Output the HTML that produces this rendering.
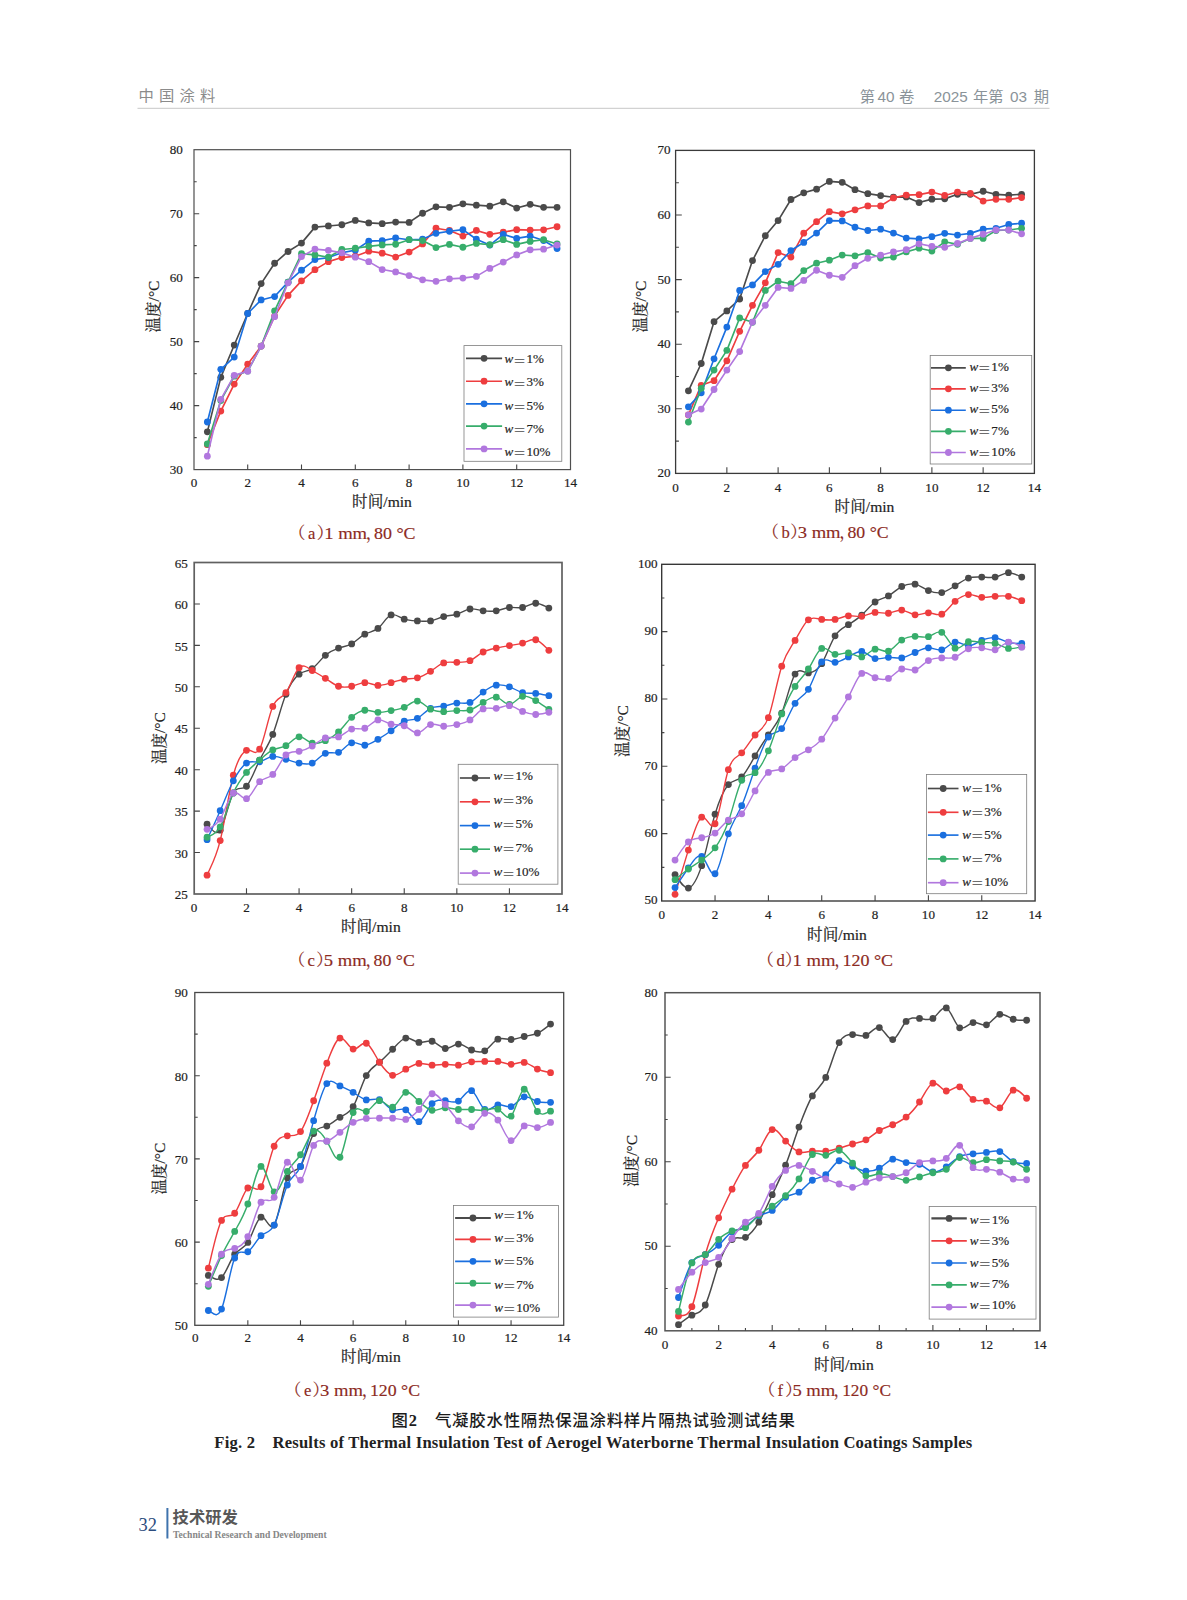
<!DOCTYPE html>
<html lang="zh"><head><meta charset="utf-8"><title>图2</title>
<style>
html,body{margin:0;padding:0;background:#fff;}
body{width:1187px;height:1600px;position:relative;overflow:hidden;}
svg{position:absolute;left:0;top:0;display:block;}
</style></head><body>
<svg width="1187" height="1600" viewBox="0 0 1187 1600">
<rect width="1187" height="1600" fill="#fff"/>
<text x="138.6" y="101.3" font-family="'Liberation Sans','Noto Sans CJK SC',sans-serif" font-size="15.3" fill="#8b8b8b" letter-spacing="5.2">中国涂料</text>
<g font-family="'Liberation Sans','Noto Sans CJK SC',sans-serif" font-size="15.3" fill="#8a9399">
<text x="859.8" y="101.5">第</text>
<text x="877.6" y="101.5">40</text>
<text x="898.9" y="101.5">卷</text>
<text x="933.7" y="101.5">2025</text>
<text x="972.9" y="101.5">年第</text>
<text x="1010.1" y="101.5">03</text>
<text x="1033.7" y="101.5">期</text>
</g>
<path d="M137.5 108.3 H1049.5" stroke="#d2d2d2" stroke-width="1.2"/>
<g>
<path d="M207.35 431.85 L220.8 377.34 L234.25 345.03 L247.7 313.49 L261.15 283.61 L274.6 263.26 L288.05 251.49 L301.5 243.11 L314.95 227.12 L328.4 225.96 L341.85 224.75 L355.3 220.4 L368.75 222.89 L382.2 223.66 L395.65 222.06 L409.1 222.38 L422.55 213.23 L436 206.83 L449.45 207.35 L462.9 203.83 L476.35 205.17 L489.8 206.19 L503.25 201.78 L516.7 208.05 L530.15 204.34 L543.6 207.35 L557.05 207.35" fill="none" stroke="#4a4a4a" stroke-width="1.65" stroke-linejoin="round"/>
<g fill="#4a4a4a"><circle cx="207.35" cy="431.85" r="3.4"/><circle cx="220.8" cy="377.34" r="3.4"/><circle cx="234.25" cy="345.03" r="3.4"/><circle cx="247.7" cy="313.49" r="3.4"/><circle cx="261.15" cy="283.61" r="3.4"/><circle cx="274.6" cy="263.26" r="3.4"/><circle cx="288.05" cy="251.49" r="3.4"/><circle cx="301.5" cy="243.11" r="3.4"/><circle cx="314.95" cy="227.12" r="3.4"/><circle cx="328.4" cy="225.96" r="3.4"/><circle cx="341.85" cy="224.75" r="3.4"/><circle cx="355.3" cy="220.4" r="3.4"/><circle cx="368.75" cy="222.89" r="3.4"/><circle cx="382.2" cy="223.66" r="3.4"/><circle cx="395.65" cy="222.06" r="3.4"/><circle cx="409.1" cy="222.38" r="3.4"/><circle cx="422.55" cy="213.23" r="3.4"/><circle cx="436" cy="206.83" r="3.4"/><circle cx="449.45" cy="207.35" r="3.4"/><circle cx="462.9" cy="203.83" r="3.4"/><circle cx="476.35" cy="205.17" r="3.4"/><circle cx="489.8" cy="206.19" r="3.4"/><circle cx="503.25" cy="201.78" r="3.4"/><circle cx="516.7" cy="208.05" r="3.4"/><circle cx="530.15" cy="204.34" r="3.4"/><circle cx="543.6" cy="207.35" r="3.4"/><circle cx="557.05" cy="207.35" r="3.4"/></g>
<path d="M207.35 444.65 L220.8 411.06 L234.25 384.12 L247.7 364.22 L261.15 346.12 L274.6 316.05 L288.05 295.38 L301.5 280.86 L314.95 269.66 L328.4 261.66 L341.85 257.57 L355.3 256.23 L368.75 251.17 L382.2 253.16 L395.65 257.06 L409.1 252.07 L422.55 243.94 L436 228.27 L449.45 230.44 L462.9 236.07 L476.35 230.44 L489.8 234.35 L503.25 232.23 L516.7 229.68 L530.15 230.12 L543.6 229.8 L557.05 226.73" fill="none" stroke="#ee3d3f" stroke-width="1.65" stroke-linejoin="round"/>
<g fill="#ee3d3f"><circle cx="207.35" cy="444.65" r="3.4"/><circle cx="220.8" cy="411.06" r="3.4"/><circle cx="234.25" cy="384.12" r="3.4"/><circle cx="247.7" cy="364.22" r="3.4"/><circle cx="261.15" cy="346.12" r="3.4"/><circle cx="274.6" cy="316.05" r="3.4"/><circle cx="288.05" cy="295.38" r="3.4"/><circle cx="301.5" cy="280.86" r="3.4"/><circle cx="314.95" cy="269.66" r="3.4"/><circle cx="328.4" cy="261.66" r="3.4"/><circle cx="341.85" cy="257.57" r="3.4"/><circle cx="355.3" cy="256.23" r="3.4"/><circle cx="368.75" cy="251.17" r="3.4"/><circle cx="382.2" cy="253.16" r="3.4"/><circle cx="395.65" cy="257.06" r="3.4"/><circle cx="409.1" cy="252.07" r="3.4"/><circle cx="422.55" cy="243.94" r="3.4"/><circle cx="436" cy="228.27" r="3.4"/><circle cx="449.45" cy="230.44" r="3.4"/><circle cx="462.9" cy="236.07" r="3.4"/><circle cx="476.35" cy="230.44" r="3.4"/><circle cx="489.8" cy="234.35" r="3.4"/><circle cx="503.25" cy="232.23" r="3.4"/><circle cx="516.7" cy="229.68" r="3.4"/><circle cx="530.15" cy="230.12" r="3.4"/><circle cx="543.6" cy="229.8" r="3.4"/><circle cx="557.05" cy="226.73" r="3.4"/></g>
<path d="M207.35 422 L220.8 369.28 L234.25 357.12 L247.7 313.49 L261.15 299.93 L274.6 296.53 L288.05 282.14 L301.5 270.17 L314.95 259.55 L328.4 257.57 L341.85 252.71 L355.3 250.15 L368.75 241.19 L382.2 240.68 L395.65 237.99 L409.1 239.72 L422.55 239.27 L436 233.32 L449.45 231.27 L462.9 229.68 L476.35 239.27 L489.8 245.03 L503.25 234.35 L516.7 238.38 L530.15 236.07 L543.6 240.55 L557.05 248.49" fill="none" stroke="#1a6fdf" stroke-width="1.65" stroke-linejoin="round"/>
<g fill="#1a6fdf"><circle cx="207.35" cy="422" r="3.4"/><circle cx="220.8" cy="369.28" r="3.4"/><circle cx="234.25" cy="357.12" r="3.4"/><circle cx="247.7" cy="313.49" r="3.4"/><circle cx="261.15" cy="299.93" r="3.4"/><circle cx="274.6" cy="296.53" r="3.4"/><circle cx="288.05" cy="282.14" r="3.4"/><circle cx="301.5" cy="270.17" r="3.4"/><circle cx="314.95" cy="259.55" r="3.4"/><circle cx="328.4" cy="257.57" r="3.4"/><circle cx="341.85" cy="252.71" r="3.4"/><circle cx="355.3" cy="250.15" r="3.4"/><circle cx="368.75" cy="241.19" r="3.4"/><circle cx="382.2" cy="240.68" r="3.4"/><circle cx="395.65" cy="237.99" r="3.4"/><circle cx="409.1" cy="239.72" r="3.4"/><circle cx="422.55" cy="239.27" r="3.4"/><circle cx="436" cy="233.32" r="3.4"/><circle cx="449.45" cy="231.27" r="3.4"/><circle cx="462.9" cy="229.68" r="3.4"/><circle cx="476.35" cy="239.27" r="3.4"/><circle cx="489.8" cy="245.03" r="3.4"/><circle cx="503.25" cy="234.35" r="3.4"/><circle cx="516.7" cy="238.38" r="3.4"/><circle cx="530.15" cy="236.07" r="3.4"/><circle cx="543.6" cy="240.55" r="3.4"/><circle cx="557.05" cy="248.49" r="3.4"/></g>
<path d="M207.35 444.01 L220.8 400.5 L234.25 376.19 L247.7 371.07 L261.15 346.12 L274.6 310.93 L288.05 282.14 L301.5 253.67 L314.95 254.88 L328.4 257.19 L341.85 249.51 L355.3 248.23 L368.75 246.31 L382.2 244.9 L395.65 244.26 L409.1 239.72 L422.55 240.55 L436 247.59 L449.45 244.39 L462.9 247.27 L476.35 243.43 L489.8 244.77 L503.25 239.72 L516.7 244.39 L530.15 241.38 L543.6 239.72 L557.05 243.94" fill="none" stroke="#37ad6b" stroke-width="1.65" stroke-linejoin="round"/>
<g fill="#37ad6b"><circle cx="207.35" cy="444.01" r="3.4"/><circle cx="220.8" cy="400.5" r="3.4"/><circle cx="234.25" cy="376.19" r="3.4"/><circle cx="247.7" cy="371.07" r="3.4"/><circle cx="261.15" cy="346.12" r="3.4"/><circle cx="274.6" cy="310.93" r="3.4"/><circle cx="288.05" cy="282.14" r="3.4"/><circle cx="301.5" cy="253.67" r="3.4"/><circle cx="314.95" cy="254.88" r="3.4"/><circle cx="328.4" cy="257.19" r="3.4"/><circle cx="341.85" cy="249.51" r="3.4"/><circle cx="355.3" cy="248.23" r="3.4"/><circle cx="368.75" cy="246.31" r="3.4"/><circle cx="382.2" cy="244.9" r="3.4"/><circle cx="395.65" cy="244.26" r="3.4"/><circle cx="409.1" cy="239.72" r="3.4"/><circle cx="422.55" cy="240.55" r="3.4"/><circle cx="436" cy="247.59" r="3.4"/><circle cx="449.45" cy="244.39" r="3.4"/><circle cx="462.9" cy="247.27" r="3.4"/><circle cx="476.35" cy="243.43" r="3.4"/><circle cx="489.8" cy="244.77" r="3.4"/><circle cx="503.25" cy="239.72" r="3.4"/><circle cx="516.7" cy="244.39" r="3.4"/><circle cx="530.15" cy="241.38" r="3.4"/><circle cx="543.6" cy="239.72" r="3.4"/><circle cx="557.05" cy="243.94" r="3.4"/></g>
<path d="M207.35 456.16 L220.8 399.29 L234.25 375.36 L247.7 371.13 L261.15 346.18 L274.6 316.69 L288.05 282.78 L301.5 256.55 L314.95 249.12 L328.4 250.34 L341.85 252.84 L355.3 257.19 L368.75 261.66 L382.2 269.53 L395.65 271.9 L409.1 275.61 L422.55 279.84 L436 281.31 L449.45 278.81 L462.9 278.11 L476.35 276.38 L489.8 268.38 L503.25 262.11 L516.7 254.88 L530.15 249.83 L543.6 249.19 L557.05 245.03" fill="none" stroke="#b177de" stroke-width="1.65" stroke-linejoin="round"/>
<g fill="#b177de"><circle cx="207.35" cy="456.16" r="3.4"/><circle cx="220.8" cy="399.29" r="3.4"/><circle cx="234.25" cy="375.36" r="3.4"/><circle cx="247.7" cy="371.13" r="3.4"/><circle cx="261.15" cy="346.18" r="3.4"/><circle cx="274.6" cy="316.69" r="3.4"/><circle cx="288.05" cy="282.78" r="3.4"/><circle cx="301.5" cy="256.55" r="3.4"/><circle cx="314.95" cy="249.12" r="3.4"/><circle cx="328.4" cy="250.34" r="3.4"/><circle cx="341.85" cy="252.84" r="3.4"/><circle cx="355.3" cy="257.19" r="3.4"/><circle cx="368.75" cy="261.66" r="3.4"/><circle cx="382.2" cy="269.53" r="3.4"/><circle cx="395.65" cy="271.9" r="3.4"/><circle cx="409.1" cy="275.61" r="3.4"/><circle cx="422.55" cy="279.84" r="3.4"/><circle cx="436" cy="281.31" r="3.4"/><circle cx="449.45" cy="278.81" r="3.4"/><circle cx="462.9" cy="278.11" r="3.4"/><circle cx="476.35" cy="276.38" r="3.4"/><circle cx="489.8" cy="268.38" r="3.4"/><circle cx="503.25" cy="262.11" r="3.4"/><circle cx="516.7" cy="254.88" r="3.4"/><circle cx="530.15" cy="249.83" r="3.4"/><circle cx="543.6" cy="249.19" r="3.4"/><circle cx="557.05" cy="245.03" r="3.4"/></g>
<rect x="194" y="149.7" width="376.5" height="319.9" fill="none" stroke="#4f4f4f" stroke-width="1.2"/>
<path d="M194 405.62 h5.2 M194 341.64 h5.2 M194 277.66 h5.2 M194 213.68 h5.2 M194 437.61 h2.7 M194 373.63 h2.7 M194 309.65 h2.7 M194 245.67 h2.7 M194 181.69 h2.7 M247.7 469.6 v-5.2 M301.5 469.6 v-5.2 M355.3 469.6 v-5.2 M409.1 469.6 v-5.2 M462.9 469.6 v-5.2 M516.7 469.6 v-5.2" stroke="#454545" stroke-width="1.1" fill="none"/>
<g font-family="'Liberation Serif','Noto Serif CJK SC',serif" font-size="13.1" fill="#1e1e1e" stroke="#1e1e1e" stroke-width="0.2">
<text x="182.9" y="474.2" text-anchor="end">30</text>
<text x="182.9" y="410.22" text-anchor="end">40</text>
<text x="182.9" y="346.24" text-anchor="end">50</text>
<text x="182.9" y="282.26" text-anchor="end">60</text>
<text x="182.9" y="218.28" text-anchor="end">70</text>
<text x="182.9" y="154.3" text-anchor="end">80</text>
<text x="193.9" y="486.7" text-anchor="middle">0</text>
<text x="247.7" y="486.7" text-anchor="middle">2</text>
<text x="301.5" y="486.7" text-anchor="middle">4</text>
<text x="355.3" y="486.7" text-anchor="middle">6</text>
<text x="409.1" y="486.7" text-anchor="middle">8</text>
<text x="462.9" y="486.7" text-anchor="middle">10</text>
<text x="516.7" y="486.7" text-anchor="middle">12</text>
<text x="570.5" y="486.7" text-anchor="middle">14</text>
</g>
<text x="382" y="507" text-anchor="middle" font-family="'Liberation Serif','Noto Serif CJK SC',serif" font-size="15.6" fill="#1e1e1e" stroke="#1e1e1e" stroke-width="0.2">时间/min</text>
<text transform="translate(158.8 306.5) rotate(-90)" text-anchor="middle" font-family="'Liberation Serif','Noto Serif CJK SC',serif" font-size="15.5" fill="#1e1e1e" stroke="#1e1e1e" stroke-width="0.2">温度/°C</text>
<g font-family="'Liberation Serif','Noto Serif CJK SC',serif" font-size="16.6" fill="#8c2a22" stroke="#8c2a22" stroke-width="0.15">
<text x="288.8" y="539">（</text>
<text x="308" y="539">a</text>
<text x="316.7" y="539">）</text>
<text x="324.2" y="539" textLength="42.9" lengthAdjust="spacingAndGlyphs">1 mm</text>
<text x="365.8" y="539">，</text>
<text x="374" y="539" textLength="41.5" lengthAdjust="spacingAndGlyphs">80 °C</text>
</g>
<rect x="464" y="345.6" width="97.8" height="115.7" fill="#fff" stroke="#7d7d7d" stroke-width="0.8"/>
<path d="M466 358.3 H502.1" stroke="#4a4a4a" stroke-width="1.65"/>
<circle cx="484.05" cy="358.3" r="3.4" fill="#4a4a4a"/>
<text x="504.6" y="363.3" font-family="'Liberation Serif','Noto Serif CJK SC',serif" font-size="13.1" fill="#1e1e1e" stroke="#222" stroke-width="0.18"><tspan font-style="italic">w</tspan><tspan dx="-0.3" dy="2.3">＝</tspan><tspan dx="0.4" dy="-2.3">1%</tspan></text>
<path d="M466 381.2 H502.1" stroke="#ee3d3f" stroke-width="1.65"/>
<circle cx="484.05" cy="381.2" r="3.4" fill="#ee3d3f"/>
<text x="504.6" y="386.3" font-family="'Liberation Serif','Noto Serif CJK SC',serif" font-size="13.1" fill="#1e1e1e" stroke="#222" stroke-width="0.18"><tspan font-style="italic">w</tspan><tspan dx="-0.3" dy="2.3">＝</tspan><tspan dx="0.4" dy="-2.3">3%</tspan></text>
<path d="M466 403.8 H502.1" stroke="#1a6fdf" stroke-width="1.65"/>
<circle cx="484.05" cy="403.8" r="3.4" fill="#1a6fdf"/>
<text x="504.6" y="409.5" font-family="'Liberation Serif','Noto Serif CJK SC',serif" font-size="13.1" fill="#1e1e1e" stroke="#222" stroke-width="0.18"><tspan font-style="italic">w</tspan><tspan dx="-0.3" dy="2.3">＝</tspan><tspan dx="0.4" dy="-2.3">5%</tspan></text>
<path d="M466 426.1 H502.1" stroke="#37ad6b" stroke-width="1.65"/>
<circle cx="484.05" cy="426.1" r="3.4" fill="#37ad6b"/>
<text x="504.6" y="432.5" font-family="'Liberation Serif','Noto Serif CJK SC',serif" font-size="13.1" fill="#1e1e1e" stroke="#222" stroke-width="0.18"><tspan font-style="italic">w</tspan><tspan dx="-0.3" dy="2.3">＝</tspan><tspan dx="0.4" dy="-2.3">7%</tspan></text>
<path d="M466 448.9 H502.1" stroke="#b177de" stroke-width="1.65"/>
<circle cx="484.05" cy="448.9" r="3.4" fill="#b177de"/>
<text x="504.6" y="456" font-family="'Liberation Serif','Noto Serif CJK SC',serif" font-size="13.1" fill="#1e1e1e" stroke="#222" stroke-width="0.18"><tspan font-style="italic">w</tspan><tspan dx="-0.3" dy="2.3">＝</tspan><tspan dx="0.4" dy="-2.3">10%</tspan></text>
</g>
<g>
<path d="M688.41 390.84 L701.23 363.52 L714.04 321.65 L726.86 310.93 L739.67 298.98 L752.49 260.61 L765.3 235.74 L778.11 220.56 L790.93 199.5 L803.74 192.78 L816.56 189.16 L829.37 181.41 L842.19 182.31 L855 189.68 L867.81 193.68 L880.63 195.62 L893.44 197.23 L906.26 196.91 L919.07 202.53 L931.89 199.17 L944.7 198.85 L957.51 194.33 L970.33 194.33 L983.14 191.23 L995.96 194.33 L1008.77 195.1 L1021.59 194.33" fill="none" stroke="#4a4a4a" stroke-width="1.65" stroke-linejoin="round"/>
<g fill="#4a4a4a"><circle cx="688.41" cy="390.84" r="3.4"/><circle cx="701.23" cy="363.52" r="3.4"/><circle cx="714.04" cy="321.65" r="3.4"/><circle cx="726.86" cy="310.93" r="3.4"/><circle cx="739.67" cy="298.98" r="3.4"/><circle cx="752.49" cy="260.61" r="3.4"/><circle cx="765.3" cy="235.74" r="3.4"/><circle cx="778.11" cy="220.56" r="3.4"/><circle cx="790.93" cy="199.5" r="3.4"/><circle cx="803.74" cy="192.78" r="3.4"/><circle cx="816.56" cy="189.16" r="3.4"/><circle cx="829.37" cy="181.41" r="3.4"/><circle cx="842.19" cy="182.31" r="3.4"/><circle cx="855" cy="189.68" r="3.4"/><circle cx="867.81" cy="193.68" r="3.4"/><circle cx="880.63" cy="195.62" r="3.4"/><circle cx="893.44" cy="197.23" r="3.4"/><circle cx="906.26" cy="196.91" r="3.4"/><circle cx="919.07" cy="202.53" r="3.4"/><circle cx="931.89" cy="199.17" r="3.4"/><circle cx="944.7" cy="198.85" r="3.4"/><circle cx="957.51" cy="194.33" r="3.4"/><circle cx="970.33" cy="194.33" r="3.4"/><circle cx="983.14" cy="191.23" r="3.4"/><circle cx="995.96" cy="194.33" r="3.4"/><circle cx="1008.77" cy="195.1" r="3.4"/><circle cx="1021.59" cy="194.33" r="3.4"/></g>
<path d="M688.41 414.94 L701.23 385.29 L714.04 380.7 L726.86 360.8 L739.67 331.28 L752.49 305.31 L765.3 282.83 L778.11 252.53 L790.93 257.12 L803.74 233.22 L816.56 221.72 L829.37 211.64 L842.19 213.84 L855 209.83 L867.81 205.96 L880.63 205.96 L893.44 197.88 L906.26 195.1 L919.07 194.65 L931.89 192.07 L944.7 195.49 L957.51 192.07 L970.33 193.42 L983.14 201.05 L995.96 199.37 L1008.77 199.37 L1021.59 197.62" fill="none" stroke="#ee3d3f" stroke-width="1.65" stroke-linejoin="round"/>
<g fill="#ee3d3f"><circle cx="688.41" cy="414.94" r="3.4"/><circle cx="701.23" cy="385.29" r="3.4"/><circle cx="714.04" cy="380.7" r="3.4"/><circle cx="726.86" cy="360.8" r="3.4"/><circle cx="739.67" cy="331.28" r="3.4"/><circle cx="752.49" cy="305.31" r="3.4"/><circle cx="765.3" cy="282.83" r="3.4"/><circle cx="778.11" cy="252.53" r="3.4"/><circle cx="790.93" cy="257.12" r="3.4"/><circle cx="803.74" cy="233.22" r="3.4"/><circle cx="816.56" cy="221.72" r="3.4"/><circle cx="829.37" cy="211.64" r="3.4"/><circle cx="842.19" cy="213.84" r="3.4"/><circle cx="855" cy="209.83" r="3.4"/><circle cx="867.81" cy="205.96" r="3.4"/><circle cx="880.63" cy="205.96" r="3.4"/><circle cx="893.44" cy="197.88" r="3.4"/><circle cx="906.26" cy="195.1" r="3.4"/><circle cx="919.07" cy="194.65" r="3.4"/><circle cx="931.89" cy="192.07" r="3.4"/><circle cx="944.7" cy="195.49" r="3.4"/><circle cx="957.51" cy="192.07" r="3.4"/><circle cx="970.33" cy="193.42" r="3.4"/><circle cx="983.14" cy="201.05" r="3.4"/><circle cx="995.96" cy="199.37" r="3.4"/><circle cx="1008.77" cy="199.37" r="3.4"/><circle cx="1021.59" cy="197.62" r="3.4"/></g>
<path d="M688.41 406.86 L701.23 392.84 L714.04 358.8 L726.86 327.08 L739.67 290.45 L752.49 284.9 L765.3 271.59 L778.11 264.35 L790.93 250.53 L803.74 242.45 L816.56 233.09 L829.37 220.56 L842.19 220.88 L855 227.27 L867.81 230.5 L880.63 229.21 L893.44 233.09 L906.26 238.06 L919.07 238.9 L931.89 236.71 L944.7 233.35 L957.51 235.03 L970.33 233.35 L983.14 229.15 L995.96 228.31 L1008.77 224.43 L1021.59 223.27" fill="none" stroke="#1a6fdf" stroke-width="1.65" stroke-linejoin="round"/>
<g fill="#1a6fdf"><circle cx="688.41" cy="406.86" r="3.4"/><circle cx="701.23" cy="392.84" r="3.4"/><circle cx="714.04" cy="358.8" r="3.4"/><circle cx="726.86" cy="327.08" r="3.4"/><circle cx="739.67" cy="290.45" r="3.4"/><circle cx="752.49" cy="284.9" r="3.4"/><circle cx="765.3" cy="271.59" r="3.4"/><circle cx="778.11" cy="264.35" r="3.4"/><circle cx="790.93" cy="250.53" r="3.4"/><circle cx="803.74" cy="242.45" r="3.4"/><circle cx="816.56" cy="233.09" r="3.4"/><circle cx="829.37" cy="220.56" r="3.4"/><circle cx="842.19" cy="220.88" r="3.4"/><circle cx="855" cy="227.27" r="3.4"/><circle cx="867.81" cy="230.5" r="3.4"/><circle cx="880.63" cy="229.21" r="3.4"/><circle cx="893.44" cy="233.09" r="3.4"/><circle cx="906.26" cy="238.06" r="3.4"/><circle cx="919.07" cy="238.9" r="3.4"/><circle cx="931.89" cy="236.71" r="3.4"/><circle cx="944.7" cy="233.35" r="3.4"/><circle cx="957.51" cy="235.03" r="3.4"/><circle cx="970.33" cy="233.35" r="3.4"/><circle cx="983.14" cy="229.15" r="3.4"/><circle cx="995.96" cy="228.31" r="3.4"/><circle cx="1008.77" cy="224.43" r="3.4"/><circle cx="1021.59" cy="223.27" r="3.4"/></g>
<path d="M688.41 422.04 L701.23 388.32 L714.04 370.1 L726.86 350.34 L739.67 317.97 L752.49 322.24 L765.3 290.45 L778.11 281.21 L790.93 283.73 L803.74 270.56 L816.56 263.19 L829.37 260.22 L842.19 255.05 L855 255.83 L867.81 252.6 L880.63 258.09 L893.44 256.99 L906.26 251.89 L919.07 248.2 L931.89 251.05 L944.7 241.81 L957.51 244.33 L970.33 238.39 L983.14 238.39 L995.96 230.5 L1008.77 229.99 L1021.59 228.31" fill="none" stroke="#37ad6b" stroke-width="1.65" stroke-linejoin="round"/>
<g fill="#37ad6b"><circle cx="688.41" cy="422.04" r="3.4"/><circle cx="701.23" cy="388.32" r="3.4"/><circle cx="714.04" cy="370.1" r="3.4"/><circle cx="726.86" cy="350.34" r="3.4"/><circle cx="739.67" cy="317.97" r="3.4"/><circle cx="752.49" cy="322.24" r="3.4"/><circle cx="765.3" cy="290.45" r="3.4"/><circle cx="778.11" cy="281.21" r="3.4"/><circle cx="790.93" cy="283.73" r="3.4"/><circle cx="803.74" cy="270.56" r="3.4"/><circle cx="816.56" cy="263.19" r="3.4"/><circle cx="829.37" cy="260.22" r="3.4"/><circle cx="842.19" cy="255.05" r="3.4"/><circle cx="855" cy="255.83" r="3.4"/><circle cx="867.81" cy="252.6" r="3.4"/><circle cx="880.63" cy="258.09" r="3.4"/><circle cx="893.44" cy="256.99" r="3.4"/><circle cx="906.26" cy="251.89" r="3.4"/><circle cx="919.07" cy="248.2" r="3.4"/><circle cx="931.89" cy="251.05" r="3.4"/><circle cx="944.7" cy="241.81" r="3.4"/><circle cx="957.51" cy="244.33" r="3.4"/><circle cx="970.33" cy="238.39" r="3.4"/><circle cx="983.14" cy="238.39" r="3.4"/><circle cx="995.96" cy="230.5" r="3.4"/><circle cx="1008.77" cy="229.99" r="3.4"/><circle cx="1021.59" cy="228.31" r="3.4"/></g>
<path d="M688.41 414.81 L701.23 409.06 L714.04 389.48 L726.86 370.1 L739.67 351.56 L752.49 322.04 L765.3 305.31 L778.11 287.42 L790.93 288.45 L803.74 280.38 L816.56 270.23 L829.37 275.27 L842.19 277.34 L855 265.71 L867.81 258.28 L880.63 255.18 L893.44 251.82 L906.26 249.69 L919.07 243.81 L931.89 246.33 L944.7 247.3 L957.51 243.42 L970.33 238.39 L983.14 234.19 L995.96 229.99 L1008.77 229.99 L1021.59 233.86" fill="none" stroke="#b177de" stroke-width="1.65" stroke-linejoin="round"/>
<g fill="#b177de"><circle cx="688.41" cy="414.81" r="3.4"/><circle cx="701.23" cy="409.06" r="3.4"/><circle cx="714.04" cy="389.48" r="3.4"/><circle cx="726.86" cy="370.1" r="3.4"/><circle cx="739.67" cy="351.56" r="3.4"/><circle cx="752.49" cy="322.04" r="3.4"/><circle cx="765.3" cy="305.31" r="3.4"/><circle cx="778.11" cy="287.42" r="3.4"/><circle cx="790.93" cy="288.45" r="3.4"/><circle cx="803.74" cy="280.38" r="3.4"/><circle cx="816.56" cy="270.23" r="3.4"/><circle cx="829.37" cy="275.27" r="3.4"/><circle cx="842.19" cy="277.34" r="3.4"/><circle cx="855" cy="265.71" r="3.4"/><circle cx="867.81" cy="258.28" r="3.4"/><circle cx="880.63" cy="255.18" r="3.4"/><circle cx="893.44" cy="251.82" r="3.4"/><circle cx="906.26" cy="249.69" r="3.4"/><circle cx="919.07" cy="243.81" r="3.4"/><circle cx="931.89" cy="246.33" r="3.4"/><circle cx="944.7" cy="247.3" r="3.4"/><circle cx="957.51" cy="243.42" r="3.4"/><circle cx="970.33" cy="238.39" r="3.4"/><circle cx="983.14" cy="234.19" r="3.4"/><circle cx="995.96" cy="229.99" r="3.4"/><circle cx="1008.77" cy="229.99" r="3.4"/><circle cx="1021.59" cy="233.86" r="3.4"/></g>
<rect x="675.6" y="150.4" width="358.8" height="323" fill="none" stroke="#3a3a3a" stroke-width="1.3"/>
<path d="M675.6 408.8 h6.2 M675.6 344.2 h6.2 M675.6 279.6 h6.2 M675.6 215 h6.2 M675.6 441.1 h3.3 M675.6 376.5 h3.3 M675.6 311.9 h3.3 M675.6 247.3 h3.3 M675.6 182.7 h3.3 M726.86 473.4 v-6.2 M778.11 473.4 v-6.2 M829.37 473.4 v-6.2 M880.63 473.4 v-6.2 M931.89 473.4 v-6.2 M983.14 473.4 v-6.2" stroke="#454545" stroke-width="1.1" fill="none"/>
<g font-family="'Liberation Serif','Noto Serif CJK SC',serif" font-size="13.1" fill="#1e1e1e" stroke="#1e1e1e" stroke-width="0.2">
<text x="670.6" y="477.3" text-anchor="end">20</text>
<text x="670.6" y="412.7" text-anchor="end">30</text>
<text x="670.6" y="348.1" text-anchor="end">40</text>
<text x="670.6" y="283.5" text-anchor="end">50</text>
<text x="670.6" y="218.9" text-anchor="end">60</text>
<text x="670.6" y="154.3" text-anchor="end">70</text>
<text x="675.6" y="492.4" text-anchor="middle">0</text>
<text x="726.86" y="492.4" text-anchor="middle">2</text>
<text x="778.11" y="492.4" text-anchor="middle">4</text>
<text x="829.37" y="492.4" text-anchor="middle">6</text>
<text x="880.63" y="492.4" text-anchor="middle">8</text>
<text x="931.89" y="492.4" text-anchor="middle">10</text>
<text x="983.14" y="492.4" text-anchor="middle">12</text>
<text x="1034.4" y="492.4" text-anchor="middle">14</text>
</g>
<text x="864.5" y="512.3" text-anchor="middle" font-family="'Liberation Serif','Noto Serif CJK SC',serif" font-size="15.6" fill="#1e1e1e" stroke="#1e1e1e" stroke-width="0.2">时间/min</text>
<text transform="translate(646 306.5) rotate(-90)" text-anchor="middle" font-family="'Liberation Serif','Noto Serif CJK SC',serif" font-size="15.5" fill="#1e1e1e" stroke="#1e1e1e" stroke-width="0.2">温度/°C</text>
<g font-family="'Liberation Serif','Noto Serif CJK SC',serif" font-size="16.6" fill="#8c2a22" stroke="#8c2a22" stroke-width="0.15">
<text x="762.3" y="538.1">（</text>
<text x="781.5" y="538.1">b</text>
<text x="790.2" y="538.1">）</text>
<text x="797.7" y="538.1" textLength="42.9" lengthAdjust="spacingAndGlyphs">3 mm</text>
<text x="839.3" y="538.1">，</text>
<text x="847.5" y="538.1" textLength="41.09" lengthAdjust="spacingAndGlyphs">80 °C</text>
</g>
<rect x="930.2" y="355.4" width="101.5" height="108.6" fill="#fff" stroke="#7d7d7d" stroke-width="0.8"/>
<path d="M931 367.8 H965.8" stroke="#4a4a4a" stroke-width="1.65"/>
<circle cx="948.4" cy="367.8" r="3.4" fill="#4a4a4a"/>
<text x="969.4" y="370.7" font-family="'Liberation Serif','Noto Serif CJK SC',serif" font-size="13.1" fill="#1e1e1e" stroke="#222" stroke-width="0.18"><tspan font-style="italic">w</tspan><tspan dx="-0.3" dy="2.3">＝</tspan><tspan dx="0.4" dy="-2.3">1%</tspan></text>
<path d="M931 388.8 H965.8" stroke="#ee3d3f" stroke-width="1.65"/>
<circle cx="948.4" cy="388.8" r="3.4" fill="#ee3d3f"/>
<text x="969.4" y="392.1" font-family="'Liberation Serif','Noto Serif CJK SC',serif" font-size="13.1" fill="#1e1e1e" stroke="#222" stroke-width="0.18"><tspan font-style="italic">w</tspan><tspan dx="-0.3" dy="2.3">＝</tspan><tspan dx="0.4" dy="-2.3">3%</tspan></text>
<path d="M931 410.2 H965.8" stroke="#1a6fdf" stroke-width="1.65"/>
<circle cx="948.4" cy="410.2" r="3.4" fill="#1a6fdf"/>
<text x="969.4" y="413.4" font-family="'Liberation Serif','Noto Serif CJK SC',serif" font-size="13.1" fill="#1e1e1e" stroke="#222" stroke-width="0.18"><tspan font-style="italic">w</tspan><tspan dx="-0.3" dy="2.3">＝</tspan><tspan dx="0.4" dy="-2.3">5%</tspan></text>
<path d="M931 431.3 H965.8" stroke="#37ad6b" stroke-width="1.65"/>
<circle cx="948.4" cy="431.3" r="3.4" fill="#37ad6b"/>
<text x="969.4" y="434.8" font-family="'Liberation Serif','Noto Serif CJK SC',serif" font-size="13.1" fill="#1e1e1e" stroke="#222" stroke-width="0.18"><tspan font-style="italic">w</tspan><tspan dx="-0.3" dy="2.3">＝</tspan><tspan dx="0.4" dy="-2.3">7%</tspan></text>
<path d="M931 452.5 H965.8" stroke="#b177de" stroke-width="1.65"/>
<circle cx="948.4" cy="452.5" r="3.4" fill="#b177de"/>
<text x="969.4" y="456.2" font-family="'Liberation Serif','Noto Serif CJK SC',serif" font-size="13.1" fill="#1e1e1e" stroke="#222" stroke-width="0.18"><tspan font-style="italic">w</tspan><tspan dx="-0.3" dy="2.3">＝</tspan><tspan dx="0.4" dy="-2.3">10%</tspan></text>
</g>
<g>
<path d="M207.05 824.22 C211.43 828.57 215.81 836.53 220.19 830.19 C224.58 823.84 228.96 800.62 233.34 792.89 C237.72 785.16 242.1 790.93 246.49 786.26 C250.87 781.59 255.25 768.99 259.63 760.07 C264.01 751.16 268.4 745.48 272.78 734.38 C277.16 723.28 281.54 705.15 285.93 694.35 C290.31 683.56 294.69 677.69 299.07 674.13 C303.45 670.58 307.84 671.64 312.22 668.58 C316.6 665.52 320.98 659.06 325.36 655.32 C329.75 651.58 334.13 649.66 338.51 648.11 C342.89 646.56 347.27 646.35 351.66 643.88 C356.04 641.42 360.42 636.62 364.8 634.19 C369.19 631.76 373.57 631.88 377.95 628.39 C382.33 624.89 386.71 616.64 391.1 614.96 C395.48 613.28 399.86 617.74 404.24 619.19 C408.62 620.64 413.01 620.69 417.39 620.93 C421.77 621.16 426.15 621.73 430.54 620.93 C434.92 620.13 439.3 617.65 443.68 616.53 C448.06 615.42 452.45 615.56 456.83 614.21 C461.21 612.87 465.59 609.63 469.98 608.99 C474.36 608.35 478.74 610.23 483.12 610.82 C487.5 611.4 491.89 611.57 496.27 610.82 C500.65 610.06 505.03 607.96 509.41 607.5 C513.8 607.04 518.18 608.3 522.56 607.5 C526.94 606.7 531.33 603.36 535.71 603.27 C540.09 603.19 544.47 606.01 548.85 608.08" fill="none" stroke="#4a4a4a" stroke-width="1.4" stroke-linejoin="round"/>
<g fill="#4a4a4a"><circle cx="207.05" cy="824.22" r="3.4"/><circle cx="220.19" cy="830.19" r="3.4"/><circle cx="233.34" cy="792.89" r="3.4"/><circle cx="246.49" cy="786.26" r="3.4"/><circle cx="259.63" cy="760.07" r="3.4"/><circle cx="272.78" cy="734.38" r="3.4"/><circle cx="285.93" cy="694.35" r="3.4"/><circle cx="299.07" cy="674.13" r="3.4"/><circle cx="312.22" cy="668.58" r="3.4"/><circle cx="325.36" cy="655.32" r="3.4"/><circle cx="338.51" cy="648.11" r="3.4"/><circle cx="351.66" cy="643.88" r="3.4"/><circle cx="364.8" cy="634.19" r="3.4"/><circle cx="377.95" cy="628.39" r="3.4"/><circle cx="391.1" cy="614.96" r="3.4"/><circle cx="404.24" cy="619.19" r="3.4"/><circle cx="417.39" cy="620.93" r="3.4"/><circle cx="430.54" cy="620.93" r="3.4"/><circle cx="443.68" cy="616.53" r="3.4"/><circle cx="456.83" cy="614.21" r="3.4"/><circle cx="469.98" cy="608.99" r="3.4"/><circle cx="483.12" cy="610.82" r="3.4"/><circle cx="496.27" cy="610.82" r="3.4"/><circle cx="509.41" cy="607.5" r="3.4"/><circle cx="522.56" cy="607.5" r="3.4"/><circle cx="535.71" cy="603.27" r="3.4"/><circle cx="548.85" cy="608.08" r="3.4"/></g>
<path d="M207.05 875.19 C211.43 865.37 215.81 858.11 220.19 840.55 C224.58 822.98 228.96 791.74 233.34 775.24 C237.72 758.74 242.1 752.45 246.49 750.29 C250.87 748.14 255.25 756.95 259.63 749.13 C264.01 741.32 268.4 716.46 272.78 706.45 C277.16 696.44 281.54 698.74 285.93 692.61 C290.31 686.49 294.69 672.03 299.07 667.75 C303.45 663.47 307.84 668.01 312.22 670.49 C316.6 672.96 320.98 675.68 325.36 678.36 C329.75 681.04 334.13 684.77 338.51 686.23 C342.89 687.69 347.27 687.18 351.66 686.23 C356.04 685.29 360.42 682.73 364.8 682.67 C369.19 682.61 373.57 685.22 377.95 685.4 C382.33 685.59 386.71 683.94 391.1 682.67 C395.48 681.4 399.86 679.87 404.24 679.19 C408.62 678.51 413.01 679.05 417.39 677.86 C421.77 676.68 426.15 674.1 430.54 671.31 C434.92 668.53 439.3 664.47 443.68 662.94 C448.06 661.42 452.45 662.38 456.83 662.36 C461.21 662.35 465.59 662.61 469.98 660.71 C474.36 658.81 478.74 654.27 483.12 652 C487.5 649.74 491.89 649.05 496.27 648.11 C500.65 647.17 505.03 646.38 509.41 645.62 C513.8 644.87 518.18 644.32 522.56 643.05 C526.94 641.79 531.33 638.63 535.71 639.74 C540.09 640.85 544.47 646.18 548.85 650.35" fill="none" stroke="#ee3d3f" stroke-width="1.4" stroke-linejoin="round"/>
<g fill="#ee3d3f"><circle cx="207.05" cy="875.19" r="3.4"/><circle cx="220.19" cy="840.55" r="3.4"/><circle cx="233.34" cy="775.24" r="3.4"/><circle cx="246.49" cy="750.29" r="3.4"/><circle cx="259.63" cy="749.13" r="3.4"/><circle cx="272.78" cy="706.45" r="3.4"/><circle cx="285.93" cy="692.61" r="3.4"/><circle cx="299.07" cy="667.75" r="3.4"/><circle cx="312.22" cy="670.49" r="3.4"/><circle cx="325.36" cy="678.36" r="3.4"/><circle cx="338.51" cy="686.23" r="3.4"/><circle cx="351.66" cy="686.23" r="3.4"/><circle cx="364.8" cy="682.67" r="3.4"/><circle cx="377.95" cy="685.4" r="3.4"/><circle cx="391.1" cy="682.67" r="3.4"/><circle cx="404.24" cy="679.19" r="3.4"/><circle cx="417.39" cy="677.86" r="3.4"/><circle cx="430.54" cy="671.31" r="3.4"/><circle cx="443.68" cy="662.94" r="3.4"/><circle cx="456.83" cy="662.36" r="3.4"/><circle cx="469.98" cy="660.71" r="3.4"/><circle cx="483.12" cy="652" r="3.4"/><circle cx="496.27" cy="648.11" r="3.4"/><circle cx="509.41" cy="645.62" r="3.4"/><circle cx="522.56" cy="643.05" r="3.4"/><circle cx="535.71" cy="639.74" r="3.4"/><circle cx="548.85" cy="650.35" r="3.4"/></g>
<path d="M207.05 839.72 C211.43 830.18 215.81 820.71 220.19 810.71 C224.58 800.71 228.96 789.15 233.34 780.79 C237.72 772.43 242.1 765.82 246.49 763.06 C250.87 760.29 255.25 762.72 259.63 761.73 C264.01 760.74 268.4 757.03 272.78 756.43 C277.16 755.82 281.54 757.91 285.93 759.25 C290.31 760.58 294.69 762.17 299.07 763.06 C303.45 763.94 307.84 765.03 312.22 763.06 C316.6 761.08 320.98 755 325.36 753.28 C329.75 751.56 334.13 754.09 338.51 752.28 C342.89 750.48 347.27 744.09 351.66 742.84 C356.04 741.58 360.42 745.45 364.8 745.24 C369.19 745.03 373.57 741.97 377.95 739.36 C382.33 736.74 386.71 733.95 391.1 730.74 C395.48 727.52 399.86 723.09 404.24 721.21 C408.62 719.32 413.01 720.48 417.39 718.3 C421.77 716.13 426.15 710.54 430.54 708.36 C434.92 706.18 439.3 706.89 443.68 706.12 C448.06 705.35 452.45 703.53 456.83 703.06 C461.21 702.58 465.59 704.17 469.98 702.39 C474.36 700.61 478.74 695.38 483.12 692.12 C487.5 688.85 491.89 686.03 496.27 685.15 C500.65 684.28 505.03 685.3 509.41 686.81 C513.8 688.33 518.18 691.48 522.56 692.61 C526.94 693.74 531.33 693.07 535.71 693.44 C540.09 693.81 544.47 694.8 548.85 695.68" fill="none" stroke="#1a6fdf" stroke-width="1.4" stroke-linejoin="round"/>
<g fill="#1a6fdf"><circle cx="207.05" cy="839.72" r="3.4"/><circle cx="220.19" cy="810.71" r="3.4"/><circle cx="233.34" cy="780.79" r="3.4"/><circle cx="246.49" cy="763.06" r="3.4"/><circle cx="259.63" cy="761.73" r="3.4"/><circle cx="272.78" cy="756.43" r="3.4"/><circle cx="285.93" cy="759.25" r="3.4"/><circle cx="299.07" cy="763.06" r="3.4"/><circle cx="312.22" cy="763.06" r="3.4"/><circle cx="325.36" cy="753.28" r="3.4"/><circle cx="338.51" cy="752.28" r="3.4"/><circle cx="351.66" cy="742.84" r="3.4"/><circle cx="364.8" cy="745.24" r="3.4"/><circle cx="377.95" cy="739.36" r="3.4"/><circle cx="391.1" cy="730.74" r="3.4"/><circle cx="404.24" cy="721.21" r="3.4"/><circle cx="417.39" cy="718.3" r="3.4"/><circle cx="430.54" cy="708.36" r="3.4"/><circle cx="443.68" cy="706.12" r="3.4"/><circle cx="456.83" cy="703.06" r="3.4"/><circle cx="469.98" cy="702.39" r="3.4"/><circle cx="483.12" cy="692.12" r="3.4"/><circle cx="496.27" cy="685.15" r="3.4"/><circle cx="509.41" cy="686.81" r="3.4"/><circle cx="522.56" cy="692.61" r="3.4"/><circle cx="535.71" cy="693.44" r="3.4"/><circle cx="548.85" cy="695.68" r="3.4"/></g>
<path d="M207.05 837.23 C211.43 834.97 215.81 834.67 220.19 826.87 C224.58 819.07 228.96 802.63 233.34 792.89 C237.72 783.15 242.1 777.46 246.49 772.42 C250.87 767.38 255.25 763.94 259.63 760.07 C264.01 756.21 268.4 752.13 272.78 749.96 C277.16 747.8 281.54 748.12 285.93 745.65 C290.31 743.19 294.69 737.16 299.07 736.79 C303.45 736.41 307.84 742.05 312.22 743.17 C316.6 744.29 320.98 742.68 325.36 740.68 C329.75 738.68 334.13 736.04 338.51 731.98 C342.89 727.92 347.27 721.27 351.66 717.31 C356.04 713.35 360.42 710.81 364.8 710.27 C369.19 709.73 373.57 712.14 377.95 712.34 C382.33 712.54 386.71 711.41 391.1 710.6 C395.48 709.79 399.86 709.22 404.24 707.28 C408.62 705.35 413.01 700.71 417.39 701.07 C421.77 701.42 426.15 706.99 430.54 709.19 C434.92 711.39 439.3 711.71 443.68 711.67 C448.06 711.64 452.45 710.75 456.83 710.6 C461.21 710.44 465.59 711.32 469.98 710.02 C474.36 708.72 478.74 705.08 483.12 702.39 C487.5 699.7 491.89 696.34 496.27 697.17 C500.65 698.01 505.03 704.51 509.41 704.38 C513.8 704.25 518.18 697.49 522.56 696.34 C526.94 695.2 531.33 698 535.71 700.57 C540.09 703.14 544.47 706.48 548.85 709.44" fill="none" stroke="#37ad6b" stroke-width="1.4" stroke-linejoin="round"/>
<g fill="#37ad6b"><circle cx="207.05" cy="837.23" r="3.4"/><circle cx="220.19" cy="826.87" r="3.4"/><circle cx="233.34" cy="792.89" r="3.4"/><circle cx="246.49" cy="772.42" r="3.4"/><circle cx="259.63" cy="760.07" r="3.4"/><circle cx="272.78" cy="749.96" r="3.4"/><circle cx="285.93" cy="745.65" r="3.4"/><circle cx="299.07" cy="736.79" r="3.4"/><circle cx="312.22" cy="743.17" r="3.4"/><circle cx="325.36" cy="740.68" r="3.4"/><circle cx="338.51" cy="731.98" r="3.4"/><circle cx="351.66" cy="717.31" r="3.4"/><circle cx="364.8" cy="710.27" r="3.4"/><circle cx="377.95" cy="712.34" r="3.4"/><circle cx="391.1" cy="710.6" r="3.4"/><circle cx="404.24" cy="707.28" r="3.4"/><circle cx="417.39" cy="701.07" r="3.4"/><circle cx="430.54" cy="709.19" r="3.4"/><circle cx="443.68" cy="711.67" r="3.4"/><circle cx="456.83" cy="710.6" r="3.4"/><circle cx="469.98" cy="710.02" r="3.4"/><circle cx="483.12" cy="702.39" r="3.4"/><circle cx="496.27" cy="697.17" r="3.4"/><circle cx="509.41" cy="704.38" r="3.4"/><circle cx="522.56" cy="696.34" r="3.4"/><circle cx="535.71" cy="700.57" r="3.4"/><circle cx="548.85" cy="709.44" r="3.4"/></g>
<path d="M207.05 829.36 C211.43 827.14 215.81 826.26 220.19 819.16 C224.58 812.07 228.96 796.11 233.34 792.98 C237.72 789.84 242.1 800.09 246.49 798.69 C250.87 797.3 255.25 786.11 259.63 781.7 C264.01 777.3 268.4 778.8 272.78 774.41 C277.16 770.02 281.54 759.25 285.93 755.02 C290.31 750.79 294.69 752.21 299.07 751.29 C303.45 750.37 307.84 748.66 312.22 746.07 C316.6 743.47 320.98 739.28 325.36 737.95 C329.75 736.62 334.13 738.49 338.51 736.95 C342.89 735.41 347.27 730.48 351.66 729.08 C356.04 727.68 360.42 729.87 364.8 728.25 C369.19 726.63 373.57 720.72 377.95 719.96 C382.33 719.2 386.71 723.2 391.1 724.27 C395.48 725.34 399.86 724.05 404.24 725.76 C408.62 727.47 413.01 733.24 417.39 732.97 C421.77 732.71 426.15 726.04 430.54 724.6 C434.92 723.16 439.3 725.92 443.68 726.26 C448.06 726.6 452.45 725.6 456.83 724.6 C461.21 723.6 465.59 722.86 469.98 719.96 C474.36 717.07 478.74 710.91 483.12 708.94 C487.5 706.97 491.89 708.84 496.27 708.36 C500.65 707.88 505.03 705.2 509.41 705.63 C513.8 706.05 518.18 709.62 522.56 711.43 C526.94 713.24 531.33 714.44 535.71 714.49 C540.09 714.55 544.47 713.22 548.85 712.34" fill="none" stroke="#b177de" stroke-width="1.4" stroke-linejoin="round"/>
<g fill="#b177de"><circle cx="207.05" cy="829.36" r="3.4"/><circle cx="220.19" cy="819.16" r="3.4"/><circle cx="233.34" cy="792.98" r="3.4"/><circle cx="246.49" cy="798.69" r="3.4"/><circle cx="259.63" cy="781.7" r="3.4"/><circle cx="272.78" cy="774.41" r="3.4"/><circle cx="285.93" cy="755.02" r="3.4"/><circle cx="299.07" cy="751.29" r="3.4"/><circle cx="312.22" cy="746.07" r="3.4"/><circle cx="325.36" cy="737.95" r="3.4"/><circle cx="338.51" cy="736.95" r="3.4"/><circle cx="351.66" cy="729.08" r="3.4"/><circle cx="364.8" cy="728.25" r="3.4"/><circle cx="377.95" cy="719.96" r="3.4"/><circle cx="391.1" cy="724.27" r="3.4"/><circle cx="404.24" cy="725.76" r="3.4"/><circle cx="417.39" cy="732.97" r="3.4"/><circle cx="430.54" cy="724.6" r="3.4"/><circle cx="443.68" cy="726.26" r="3.4"/><circle cx="456.83" cy="724.6" r="3.4"/><circle cx="469.98" cy="719.96" r="3.4"/><circle cx="483.12" cy="708.94" r="3.4"/><circle cx="496.27" cy="708.36" r="3.4"/><circle cx="509.41" cy="705.63" r="3.4"/><circle cx="522.56" cy="711.43" r="3.4"/><circle cx="535.71" cy="714.49" r="3.4"/><circle cx="548.85" cy="712.34" r="3.4"/></g>
<rect x="194.2" y="562.5" width="367.8" height="331.5" fill="none" stroke="#606060" stroke-width="1.7"/>
<path d="M194.2 852.56 h5.7 M194.2 811.12 h5.7 M194.2 769.69 h5.7 M194.2 728.25 h5.7 M194.2 686.81 h5.7 M194.2 645.38 h5.7 M194.2 603.94 h5.7 M246.49 894 v-5.7 M299.07 894 v-5.7 M351.66 894 v-5.7 M404.24 894 v-5.7 M456.83 894 v-5.7 M509.41 894 v-5.7" stroke="#454545" stroke-width="1.1" fill="none"/>
<g font-family="'Liberation Serif','Noto Serif CJK SC',serif" font-size="13.1" fill="#1e1e1e" stroke="#1e1e1e" stroke-width="0.2">
<text x="187.9" y="899.2" text-anchor="end">25</text>
<text x="187.9" y="857.76" text-anchor="end">30</text>
<text x="187.9" y="816.32" text-anchor="end">35</text>
<text x="187.9" y="774.89" text-anchor="end">40</text>
<text x="187.9" y="733.45" text-anchor="end">45</text>
<text x="187.9" y="692.01" text-anchor="end">50</text>
<text x="187.9" y="650.57" text-anchor="end">55</text>
<text x="187.9" y="609.14" text-anchor="end">60</text>
<text x="187.9" y="567.7" text-anchor="end">65</text>
<text x="193.9" y="912.1" text-anchor="middle">0</text>
<text x="246.49" y="912.1" text-anchor="middle">2</text>
<text x="299.07" y="912.1" text-anchor="middle">4</text>
<text x="351.66" y="912.1" text-anchor="middle">6</text>
<text x="404.24" y="912.1" text-anchor="middle">8</text>
<text x="456.83" y="912.1" text-anchor="middle">10</text>
<text x="509.41" y="912.1" text-anchor="middle">12</text>
<text x="562" y="912.1" text-anchor="middle">14</text>
</g>
<text x="370.8" y="932.3" text-anchor="middle" font-family="'Liberation Serif','Noto Serif CJK SC',serif" font-size="15.6" fill="#1e1e1e" stroke="#1e1e1e" stroke-width="0.2">时间/min</text>
<text transform="translate(165 738.2) rotate(-90)" text-anchor="middle" font-family="'Liberation Serif','Noto Serif CJK SC',serif" font-size="15.5" fill="#1e1e1e" stroke="#1e1e1e" stroke-width="0.2">温度/°C</text>
<g font-family="'Liberation Serif','Noto Serif CJK SC',serif" font-size="16.6" fill="#8c2a22" stroke="#8c2a22" stroke-width="0.15">
<text x="288.4" y="965.7">（</text>
<text x="307.6" y="965.7">c</text>
<text x="316.3" y="965.7">）</text>
<text x="323.8" y="965.7" textLength="42.9" lengthAdjust="spacingAndGlyphs">5 mm</text>
<text x="365.4" y="965.7">，</text>
<text x="373.6" y="965.7" textLength="41.19" lengthAdjust="spacingAndGlyphs">80 °C</text>
</g>
<rect x="458.2" y="764.3" width="99.7" height="119.9" fill="#fff" stroke="#7d7d7d" stroke-width="0.8"/>
<path d="M459.9 778 H490" stroke="#4a4a4a" stroke-width="1.65"/>
<circle cx="474.95" cy="778" r="3.4" fill="#4a4a4a"/>
<text x="493.6" y="779.6" font-family="'Liberation Serif','Noto Serif CJK SC',serif" font-size="13.1" fill="#1e1e1e" stroke="#222" stroke-width="0.18"><tspan font-style="italic">w</tspan><tspan dx="-0.3" dy="2.3">＝</tspan><tspan dx="0.4" dy="-2.3">1%</tspan></text>
<path d="M459.9 801.8 H490" stroke="#ee3d3f" stroke-width="1.65"/>
<circle cx="474.95" cy="801.8" r="3.4" fill="#ee3d3f"/>
<text x="493.6" y="803.7" font-family="'Liberation Serif','Noto Serif CJK SC',serif" font-size="13.1" fill="#1e1e1e" stroke="#222" stroke-width="0.18"><tspan font-style="italic">w</tspan><tspan dx="-0.3" dy="2.3">＝</tspan><tspan dx="0.4" dy="-2.3">3%</tspan></text>
<path d="M459.9 825.6 H490" stroke="#1a6fdf" stroke-width="1.65"/>
<circle cx="474.95" cy="825.6" r="3.4" fill="#1a6fdf"/>
<text x="493.6" y="827.8" font-family="'Liberation Serif','Noto Serif CJK SC',serif" font-size="13.1" fill="#1e1e1e" stroke="#222" stroke-width="0.18"><tspan font-style="italic">w</tspan><tspan dx="-0.3" dy="2.3">＝</tspan><tspan dx="0.4" dy="-2.3">5%</tspan></text>
<path d="M459.9 849.2 H490" stroke="#37ad6b" stroke-width="1.65"/>
<circle cx="474.95" cy="849.2" r="3.4" fill="#37ad6b"/>
<text x="493.6" y="851.9" font-family="'Liberation Serif','Noto Serif CJK SC',serif" font-size="13.1" fill="#1e1e1e" stroke="#222" stroke-width="0.18"><tspan font-style="italic">w</tspan><tspan dx="-0.3" dy="2.3">＝</tspan><tspan dx="0.4" dy="-2.3">7%</tspan></text>
<path d="M459.9 873.1 H490" stroke="#b177de" stroke-width="1.65"/>
<circle cx="474.95" cy="873.1" r="3.4" fill="#b177de"/>
<text x="493.6" y="876.3" font-family="'Liberation Serif','Noto Serif CJK SC',serif" font-size="13.1" fill="#1e1e1e" stroke="#222" stroke-width="0.18"><tspan font-style="italic">w</tspan><tspan dx="-0.3" dy="2.3">＝</tspan><tspan dx="0.4" dy="-2.3">10%</tspan></text>
</g>
<g>
<path d="M675.04 874.6 C679.48 880.3 683.93 888.98 688.37 888.07 C692.82 887.16 697.26 879.07 701.71 865.65 C706.15 852.23 710.6 828.66 715.04 814.13 C719.49 799.6 723.93 789.87 728.38 784.57 C732.82 779.27 737.27 781.36 741.71 776.96 C746.16 772.56 750.6 763.52 755.05 755.95 C759.5 748.38 763.94 741.22 768.39 734.8 C772.83 728.39 777.28 724.14 781.72 713.12 C786.17 702.1 790.61 681.1 795.06 674.06 C799.5 667.03 803.95 673.2 808.39 672.92 C812.84 672.64 817.28 670.6 821.73 663.63 C826.17 656.65 830.62 642.67 835.06 635.82 C839.51 628.96 843.95 627.57 848.4 624.7 C852.85 621.84 857.29 619.2 861.74 615.14 C866.18 611.09 870.63 605.16 875.07 602.01 C879.52 598.86 883.96 598.46 888.41 595.95 C892.85 593.44 897.3 588.82 901.74 586.52 C906.19 584.23 910.63 583.25 915.08 584.17 C919.52 585.08 923.97 588.84 928.41 590.56 C932.86 592.29 937.3 593.45 941.75 592.58 C946.2 591.72 950.64 588.55 955.09 585.85 C959.53 583.14 963.98 579.61 968.42 578.1 C972.87 576.6 977.31 576.97 981.76 577.09 C986.2 577.22 990.65 578.02 995.09 577.09 C999.54 576.17 1003.98 572.87 1008.43 572.72 C1012.87 572.57 1017.32 575.19 1021.76 577.09" fill="none" stroke="#4a4a4a" stroke-width="1.4" stroke-linejoin="round"/>
<g fill="#4a4a4a"><circle cx="675.04" cy="874.6" r="3.4"/><circle cx="688.37" cy="888.07" r="3.4"/><circle cx="701.71" cy="865.65" r="3.4"/><circle cx="715.04" cy="814.13" r="3.4"/><circle cx="728.38" cy="784.57" r="3.4"/><circle cx="741.71" cy="776.96" r="3.4"/><circle cx="755.05" cy="755.95" r="3.4"/><circle cx="768.39" cy="734.8" r="3.4"/><circle cx="781.72" cy="713.12" r="3.4"/><circle cx="795.06" cy="674.06" r="3.4"/><circle cx="808.39" cy="672.92" r="3.4"/><circle cx="821.73" cy="663.63" r="3.4"/><circle cx="835.06" cy="635.82" r="3.4"/><circle cx="848.4" cy="624.7" r="3.4"/><circle cx="861.74" cy="615.14" r="3.4"/><circle cx="875.07" cy="602.01" r="3.4"/><circle cx="888.41" cy="595.95" r="3.4"/><circle cx="901.74" cy="586.52" r="3.4"/><circle cx="915.08" cy="584.17" r="3.4"/><circle cx="928.41" cy="590.56" r="3.4"/><circle cx="941.75" cy="592.58" r="3.4"/><circle cx="955.09" cy="585.85" r="3.4"/><circle cx="968.42" cy="578.1" r="3.4"/><circle cx="981.76" cy="577.09" r="3.4"/><circle cx="995.09" cy="577.09" r="3.4"/><circle cx="1008.43" cy="572.72" r="3.4"/><circle cx="1021.76" cy="577.09" r="3.4"/></g>
<path d="M675.04 894.33 C679.48 879.78 683.93 864.29 688.37 850.09 C692.82 835.9 697.26 819.71 701.71 817.16 C706.15 814.62 710.6 831.72 715.04 823.76 C719.49 815.81 723.93 782.99 728.38 769.69 C732.82 756.39 737.27 757.63 741.71 752.85 C746.16 748.07 750.6 740.32 755.05 735.01 C759.5 729.69 763.94 729.57 768.39 717.63 C772.83 705.7 777.28 679.85 781.72 666.19 C786.17 652.53 790.61 647.78 795.06 640.39 C799.5 633 803.95 623.41 808.39 619.79 C812.84 616.16 817.28 618.91 821.73 619.45 C826.17 619.99 830.62 620.31 835.06 619.45 C839.51 618.6 843.95 616.26 848.4 615.82 C852.85 615.37 857.29 616.89 861.74 616.29 C866.18 615.69 870.63 612.93 875.07 612.45 C879.52 611.97 883.96 613.74 888.41 613.26 C892.85 612.77 897.3 609.76 901.74 610.09 C906.19 610.42 910.63 614.31 915.08 614.8 C919.52 615.3 923.97 612.77 928.41 612.78 C932.86 612.8 937.3 615.98 941.75 614.13 C946.2 612.28 950.64 605.18 955.09 601.34 C959.53 597.5 963.98 594.96 968.42 594.6 C972.87 594.24 977.31 596.86 981.76 597.3 C986.2 597.73 990.65 596.67 995.09 596.29 C999.54 595.9 1003.98 595.52 1008.43 596.29 C1012.87 597.05 1017.32 599.04 1021.76 600.66" fill="none" stroke="#ee3d3f" stroke-width="1.4" stroke-linejoin="round"/>
<g fill="#ee3d3f"><circle cx="675.04" cy="894.33" r="3.4"/><circle cx="688.37" cy="850.09" r="3.4"/><circle cx="701.71" cy="817.16" r="3.4"/><circle cx="715.04" cy="823.76" r="3.4"/><circle cx="728.38" cy="769.69" r="3.4"/><circle cx="741.71" cy="752.85" r="3.4"/><circle cx="755.05" cy="735.01" r="3.4"/><circle cx="768.39" cy="717.63" r="3.4"/><circle cx="781.72" cy="666.19" r="3.4"/><circle cx="795.06" cy="640.39" r="3.4"/><circle cx="808.39" cy="619.79" r="3.4"/><circle cx="821.73" cy="619.45" r="3.4"/><circle cx="835.06" cy="619.45" r="3.4"/><circle cx="848.4" cy="615.82" r="3.4"/><circle cx="861.74" cy="616.29" r="3.4"/><circle cx="875.07" cy="612.45" r="3.4"/><circle cx="888.41" cy="613.26" r="3.4"/><circle cx="901.74" cy="610.09" r="3.4"/><circle cx="915.08" cy="614.8" r="3.4"/><circle cx="928.41" cy="612.78" r="3.4"/><circle cx="941.75" cy="614.13" r="3.4"/><circle cx="955.09" cy="601.34" r="3.4"/><circle cx="968.42" cy="594.6" r="3.4"/><circle cx="981.76" cy="597.3" r="3.4"/><circle cx="995.09" cy="596.29" r="3.4"/><circle cx="1008.43" cy="596.29" r="3.4"/><circle cx="1021.76" cy="600.66" r="3.4"/></g>
<path d="M675.04 887.6 C679.48 881.26 683.93 874.25 688.37 868 C692.82 861.76 697.26 853.85 701.71 856.35 C706.15 858.85 710.6 877.19 715.04 873.73 C719.49 870.26 723.93 846.45 728.38 833.86 C732.82 821.27 737.27 815.91 741.71 805.65 C746.16 795.38 750.6 780.66 755.05 768.21 C759.5 755.75 763.94 742.91 768.39 737.03 C772.83 731.15 777.28 734.17 781.72 728.61 C786.17 723.05 790.61 709.87 795.06 703.29 C799.5 696.71 803.95 696.43 808.39 689.28 C812.84 682.13 817.28 666.74 821.73 661.94 C826.17 657.15 830.62 662.31 835.06 662.28 C839.51 662.25 843.95 659.34 848.4 656.89 C852.85 654.44 857.29 650.93 861.74 651.51 C866.18 652.08 870.63 657.42 875.07 658.58 C879.52 659.74 883.96 657.61 888.41 657.36 C892.85 657.12 897.3 658.56 901.74 657.9 C906.19 657.25 910.63 654.59 915.08 652.52 C919.52 650.44 923.97 647.89 928.41 647.8 C932.86 647.71 937.3 650.95 941.75 649.82 C946.2 648.69 950.64 642.8 955.09 642.08 C959.53 641.36 963.98 645.75 968.42 645.78 C972.87 645.81 977.31 642.22 981.76 640.39 C986.2 638.57 990.65 637.15 995.09 637.7 C999.54 638.25 1003.98 641.3 1008.43 642.41 C1012.87 643.53 1017.32 643.32 1021.76 643.42" fill="none" stroke="#1a6fdf" stroke-width="1.4" stroke-linejoin="round"/>
<g fill="#1a6fdf"><circle cx="675.04" cy="887.6" r="3.4"/><circle cx="688.37" cy="868" r="3.4"/><circle cx="701.71" cy="856.35" r="3.4"/><circle cx="715.04" cy="873.73" r="3.4"/><circle cx="728.38" cy="833.86" r="3.4"/><circle cx="741.71" cy="805.65" r="3.4"/><circle cx="755.05" cy="768.21" r="3.4"/><circle cx="768.39" cy="737.03" r="3.4"/><circle cx="781.72" cy="728.61" r="3.4"/><circle cx="795.06" cy="703.29" r="3.4"/><circle cx="808.39" cy="689.28" r="3.4"/><circle cx="821.73" cy="661.94" r="3.4"/><circle cx="835.06" cy="662.28" r="3.4"/><circle cx="848.4" cy="656.89" r="3.4"/><circle cx="861.74" cy="651.51" r="3.4"/><circle cx="875.07" cy="658.58" r="3.4"/><circle cx="888.41" cy="657.36" r="3.4"/><circle cx="901.74" cy="657.9" r="3.4"/><circle cx="915.08" cy="652.52" r="3.4"/><circle cx="928.41" cy="647.8" r="3.4"/><circle cx="941.75" cy="649.82" r="3.4"/><circle cx="955.09" cy="642.08" r="3.4"/><circle cx="968.42" cy="645.78" r="3.4"/><circle cx="981.76" cy="640.39" r="3.4"/><circle cx="995.09" cy="637.7" r="3.4"/><circle cx="1008.43" cy="642.41" r="3.4"/><circle cx="1021.76" cy="643.42" r="3.4"/></g>
<path d="M675.04 879.65 C679.48 876.02 683.93 872.24 688.37 869.01 C692.82 865.79 697.26 863.38 701.71 860.06 C706.15 856.74 710.6 853.82 715.04 847.87 C719.49 841.92 723.93 833.9 728.38 821.54 C732.82 809.18 737.27 788.5 741.71 780.33 C746.16 772.16 750.6 776.44 755.05 772.72 C759.5 768.99 763.94 761.3 768.39 750.83 C772.83 740.37 777.28 725.15 781.72 713.93 C786.17 702.71 790.61 693.37 795.06 686.39 C799.5 679.41 803.95 675.82 808.39 669.01 C812.84 662.2 817.28 650.81 821.73 648.47 C826.17 646.14 830.62 653.2 835.06 654.33 C839.51 655.47 843.95 652.41 848.4 652.85 C852.85 653.29 857.29 657.6 861.74 656.89 C866.18 656.18 870.63 650.1 875.07 649.15 C879.52 648.2 883.96 652.5 888.41 651.17 C892.85 649.83 897.3 643.06 901.74 640.06 C906.19 637.05 910.63 636.38 915.08 636.35 C919.52 636.32 923.97 637.94 928.41 636.69 C932.86 635.44 937.3 629.98 941.75 632.31 C946.2 634.65 950.64 646.25 955.09 648.14 C959.53 650.03 963.98 643.29 968.42 641.74 C972.87 640.19 977.31 641.94 981.76 642.41 C986.2 642.89 990.65 642.36 995.09 643.42 C999.54 644.49 1003.98 647.75 1008.43 648.47 C1012.87 649.2 1017.32 647.71 1021.76 646.79" fill="none" stroke="#37ad6b" stroke-width="1.4" stroke-linejoin="round"/>
<g fill="#37ad6b"><circle cx="675.04" cy="879.65" r="3.4"/><circle cx="688.37" cy="869.01" r="3.4"/><circle cx="701.71" cy="860.06" r="3.4"/><circle cx="715.04" cy="847.87" r="3.4"/><circle cx="728.38" cy="821.54" r="3.4"/><circle cx="741.71" cy="780.33" r="3.4"/><circle cx="755.05" cy="772.72" r="3.4"/><circle cx="768.39" cy="750.83" r="3.4"/><circle cx="781.72" cy="713.93" r="3.4"/><circle cx="795.06" cy="686.39" r="3.4"/><circle cx="808.39" cy="669.01" r="3.4"/><circle cx="821.73" cy="648.47" r="3.4"/><circle cx="835.06" cy="654.33" r="3.4"/><circle cx="848.4" cy="652.85" r="3.4"/><circle cx="861.74" cy="656.89" r="3.4"/><circle cx="875.07" cy="649.15" r="3.4"/><circle cx="888.41" cy="651.17" r="3.4"/><circle cx="901.74" cy="640.06" r="3.4"/><circle cx="915.08" cy="636.35" r="3.4"/><circle cx="928.41" cy="636.69" r="3.4"/><circle cx="941.75" cy="632.31" r="3.4"/><circle cx="955.09" cy="648.14" r="3.4"/><circle cx="968.42" cy="641.74" r="3.4"/><circle cx="981.76" cy="642.41" r="3.4"/><circle cx="995.09" cy="643.42" r="3.4"/><circle cx="1008.43" cy="648.47" r="3.4"/><circle cx="1021.76" cy="646.79" r="3.4"/></g>
<path d="M675.04 860.06 C679.48 853.46 683.93 845.7 688.37 842.01 C692.82 838.32 697.26 838.72 701.71 837.77 C706.15 836.81 710.6 836.34 715.04 833.05 C719.49 829.77 723.93 823.06 728.38 820.06 C732.82 817.05 737.27 818.44 741.71 813.79 C746.16 809.15 750.6 798.68 755.05 790.97 C759.5 783.25 763.94 775.66 768.39 772.38 C772.83 769.1 777.28 771.15 781.72 768.88 C786.17 766.61 790.61 760.99 795.06 757.57 C799.5 754.14 803.95 752.49 808.39 749.82 C812.84 747.15 817.28 744.63 821.73 739.18 C826.17 733.73 830.62 725.13 835.06 718.1 C839.51 711.08 843.95 704.98 848.4 696.96 C852.85 688.94 857.29 676.66 861.74 673.39 C866.18 670.12 870.63 675.98 875.07 677.77 C879.52 679.56 883.96 680.46 888.41 678.44 C892.85 676.42 897.3 670.31 901.74 669.01 C906.19 667.72 910.63 671.27 915.08 670.02 C919.52 668.77 923.97 663.02 928.41 660.6 C932.86 658.17 937.3 658.02 941.75 657.9 C946.2 657.78 950.64 658.89 955.09 657.23 C959.53 655.57 963.98 650.7 968.42 648.81 C972.87 646.93 977.31 647.13 981.76 647.8 C986.2 648.47 990.65 651.03 995.09 649.82 C999.54 648.62 1003.98 642.84 1008.43 642.08 C1012.87 641.32 1017.32 644.75 1021.76 647.13" fill="none" stroke="#b177de" stroke-width="1.4" stroke-linejoin="round"/>
<g fill="#b177de"><circle cx="675.04" cy="860.06" r="3.4"/><circle cx="688.37" cy="842.01" r="3.4"/><circle cx="701.71" cy="837.77" r="3.4"/><circle cx="715.04" cy="833.05" r="3.4"/><circle cx="728.38" cy="820.06" r="3.4"/><circle cx="741.71" cy="813.79" r="3.4"/><circle cx="755.05" cy="790.97" r="3.4"/><circle cx="768.39" cy="772.38" r="3.4"/><circle cx="781.72" cy="768.88" r="3.4"/><circle cx="795.06" cy="757.57" r="3.4"/><circle cx="808.39" cy="749.82" r="3.4"/><circle cx="821.73" cy="739.18" r="3.4"/><circle cx="835.06" cy="718.1" r="3.4"/><circle cx="848.4" cy="696.96" r="3.4"/><circle cx="861.74" cy="673.39" r="3.4"/><circle cx="875.07" cy="677.77" r="3.4"/><circle cx="888.41" cy="678.44" r="3.4"/><circle cx="901.74" cy="669.01" r="3.4"/><circle cx="915.08" cy="670.02" r="3.4"/><circle cx="928.41" cy="660.6" r="3.4"/><circle cx="941.75" cy="657.9" r="3.4"/><circle cx="955.09" cy="657.23" r="3.4"/><circle cx="968.42" cy="648.81" r="3.4"/><circle cx="981.76" cy="647.8" r="3.4"/><circle cx="995.09" cy="649.82" r="3.4"/><circle cx="1008.43" cy="642.08" r="3.4"/><circle cx="1021.76" cy="647.13" r="3.4"/></g>
<rect x="661.7" y="564.3" width="373.4" height="336.7" fill="none" stroke="#333333" stroke-width="1.35"/>
<path d="M661.7 833.66 h5.7 M661.7 766.32 h5.7 M661.7 698.98 h5.7 M661.7 631.64 h5.7 M661.7 867.33 h2.7 M661.7 799.99 h2.7 M661.7 732.65 h2.7 M661.7 665.31 h2.7 M661.7 597.97 h2.7 M715.04 901 v-5.7 M768.39 901 v-5.7 M821.73 901 v-5.7 M875.07 901 v-5.7 M928.41 901 v-5.7 M981.76 901 v-5.7" stroke="#454545" stroke-width="1.1" fill="none"/>
<g font-family="'Liberation Serif','Noto Serif CJK SC',serif" font-size="13.1" fill="#1e1e1e" stroke="#1e1e1e" stroke-width="0.2">
<text x="657.6" y="904.4" text-anchor="end">50</text>
<text x="657.6" y="837.06" text-anchor="end">60</text>
<text x="657.6" y="769.72" text-anchor="end">70</text>
<text x="657.6" y="702.38" text-anchor="end">80</text>
<text x="657.6" y="635.04" text-anchor="end">90</text>
<text x="657.6" y="567.7" text-anchor="end">100</text>
<text x="661.7" y="918.5" text-anchor="middle">0</text>
<text x="715.04" y="918.5" text-anchor="middle">2</text>
<text x="768.39" y="918.5" text-anchor="middle">4</text>
<text x="821.73" y="918.5" text-anchor="middle">6</text>
<text x="875.07" y="918.5" text-anchor="middle">8</text>
<text x="928.41" y="918.5" text-anchor="middle">10</text>
<text x="981.76" y="918.5" text-anchor="middle">12</text>
<text x="1035.1" y="918.5" text-anchor="middle">14</text>
</g>
<text x="837" y="940.4" text-anchor="middle" font-family="'Liberation Serif','Noto Serif CJK SC',serif" font-size="15.6" fill="#1e1e1e" stroke="#1e1e1e" stroke-width="0.2">时间/min</text>
<text transform="translate(628 731) rotate(-90)" text-anchor="middle" font-family="'Liberation Serif','Noto Serif CJK SC',serif" font-size="15.5" fill="#1e1e1e" stroke="#1e1e1e" stroke-width="0.2">温度/°C</text>
<g font-family="'Liberation Serif','Noto Serif CJK SC',serif" font-size="16.6" fill="#8c2a22" stroke="#8c2a22" stroke-width="0.15">
<text x="757.2" y="965.7">（</text>
<text x="776.4" y="965.7">d</text>
<text x="785.1" y="965.7">）</text>
<text x="792.6" y="965.7" textLength="42.9" lengthAdjust="spacingAndGlyphs">1 mm</text>
<text x="834.2" y="965.7">，</text>
<text x="842.4" y="965.7" textLength="50.71" lengthAdjust="spacingAndGlyphs">120 °C</text>
</g>
<rect x="926.4" y="774.6" width="100.3" height="119.1" fill="#fff" stroke="#7d7d7d" stroke-width="0.8"/>
<path d="M927.9 788.5 H958.5" stroke="#4a4a4a" stroke-width="1.65"/>
<circle cx="943.2" cy="788.5" r="3.4" fill="#4a4a4a"/>
<text x="962.2" y="792.4" font-family="'Liberation Serif','Noto Serif CJK SC',serif" font-size="13.1" fill="#1e1e1e" stroke="#222" stroke-width="0.18"><tspan font-style="italic">w</tspan><tspan dx="-0.3" dy="2.3">＝</tspan><tspan dx="0.4" dy="-2.3">1%</tspan></text>
<path d="M927.9 812.3 H958.5" stroke="#ee3d3f" stroke-width="1.65"/>
<circle cx="943.2" cy="812.3" r="3.4" fill="#ee3d3f"/>
<text x="962.2" y="815.9" font-family="'Liberation Serif','Noto Serif CJK SC',serif" font-size="13.1" fill="#1e1e1e" stroke="#222" stroke-width="0.18"><tspan font-style="italic">w</tspan><tspan dx="-0.3" dy="2.3">＝</tspan><tspan dx="0.4" dy="-2.3">3%</tspan></text>
<path d="M927.9 835.1 H958.5" stroke="#1a6fdf" stroke-width="1.65"/>
<circle cx="943.2" cy="835.1" r="3.4" fill="#1a6fdf"/>
<text x="962.2" y="838.9" font-family="'Liberation Serif','Noto Serif CJK SC',serif" font-size="13.1" fill="#1e1e1e" stroke="#222" stroke-width="0.18"><tspan font-style="italic">w</tspan><tspan dx="-0.3" dy="2.3">＝</tspan><tspan dx="0.4" dy="-2.3">5%</tspan></text>
<path d="M927.9 858.9 H958.5" stroke="#37ad6b" stroke-width="1.65"/>
<circle cx="943.2" cy="858.9" r="3.4" fill="#37ad6b"/>
<text x="962.2" y="862.2" font-family="'Liberation Serif','Noto Serif CJK SC',serif" font-size="13.1" fill="#1e1e1e" stroke="#222" stroke-width="0.18"><tspan font-style="italic">w</tspan><tspan dx="-0.3" dy="2.3">＝</tspan><tspan dx="0.4" dy="-2.3">7%</tspan></text>
<path d="M927.9 882.7 H958.5" stroke="#b177de" stroke-width="1.65"/>
<circle cx="943.2" cy="882.7" r="3.4" fill="#b177de"/>
<text x="962.2" y="885.5" font-family="'Liberation Serif','Noto Serif CJK SC',serif" font-size="13.1" fill="#1e1e1e" stroke="#222" stroke-width="0.18"><tspan font-style="italic">w</tspan><tspan dx="-0.3" dy="2.3">＝</tspan><tspan dx="0.4" dy="-2.3">10%</tspan></text>
</g>
<g>
<path d="M208.36 1275.38 C212.75 1277.46 217.13 1281.67 221.52 1277.54 C225.91 1273.42 230.3 1260.01 234.68 1254.25 C239.07 1248.48 243.46 1249.36 247.84 1242.43 C252.23 1235.5 256.62 1218.96 261 1217.14 C265.39 1215.32 269.78 1231.7 274.16 1225.04 C278.55 1218.38 282.94 1188.47 287.32 1177.87 C291.71 1167.27 296.1 1173.16 300.49 1166.39 C304.87 1159.62 309.26 1141.07 313.65 1133.61 C318.03 1126.14 322.42 1128.09 326.81 1126.04 C331.19 1123.99 335.58 1120.2 339.97 1117.3 C344.35 1114.4 348.74 1113.98 353.13 1106.65 C357.52 1099.32 361.9 1083.43 366.29 1075.53 C370.68 1067.64 375.06 1066.02 379.45 1062.22 C383.84 1058.43 388.22 1053.79 392.61 1049.24 C397 1044.69 401.38 1038.96 405.77 1038.09 C410.16 1037.23 414.55 1041.84 418.93 1042.42 C423.32 1043 427.71 1040.13 432.09 1041.26 C436.48 1042.38 440.87 1048.01 445.25 1048.49 C449.64 1048.97 454.03 1044.14 458.41 1044.08 C462.8 1044.03 467.19 1048.19 471.58 1049.99 C475.96 1051.79 480.35 1053.11 484.74 1050.82 C489.12 1048.53 493.51 1041.21 497.9 1039.18 C502.28 1037.15 506.67 1039.65 511.06 1039.51 C515.44 1039.37 519.83 1037.59 524.22 1036.51 C528.6 1035.43 532.99 1035.26 537.38 1033.27 C541.77 1031.28 546.15 1027.45 550.54 1024.12" fill="none" stroke="#4a4a4a" stroke-width="1.45" stroke-linejoin="round"/>
<g fill="#4a4a4a"><circle cx="208.36" cy="1275.38" r="3.4"/><circle cx="221.52" cy="1277.54" r="3.4"/><circle cx="234.68" cy="1254.25" r="3.4"/><circle cx="247.84" cy="1242.43" r="3.4"/><circle cx="261" cy="1217.14" r="3.4"/><circle cx="274.16" cy="1225.04" r="3.4"/><circle cx="287.32" cy="1177.87" r="3.4"/><circle cx="300.49" cy="1166.39" r="3.4"/><circle cx="313.65" cy="1133.61" r="3.4"/><circle cx="326.81" cy="1126.04" r="3.4"/><circle cx="339.97" cy="1117.3" r="3.4"/><circle cx="353.13" cy="1106.65" r="3.4"/><circle cx="366.29" cy="1075.53" r="3.4"/><circle cx="379.45" cy="1062.22" r="3.4"/><circle cx="392.61" cy="1049.24" r="3.4"/><circle cx="405.77" cy="1038.09" r="3.4"/><circle cx="418.93" cy="1042.42" r="3.4"/><circle cx="432.09" cy="1041.26" r="3.4"/><circle cx="445.25" cy="1048.49" r="3.4"/><circle cx="458.41" cy="1044.08" r="3.4"/><circle cx="471.58" cy="1049.99" r="3.4"/><circle cx="484.74" cy="1050.82" r="3.4"/><circle cx="497.9" cy="1039.18" r="3.4"/><circle cx="511.06" cy="1039.51" r="3.4"/><circle cx="524.22" cy="1036.51" r="3.4"/><circle cx="537.38" cy="1033.27" r="3.4"/><circle cx="550.54" cy="1024.12" r="3.4"/></g>
<path d="M208.36 1268.22 C212.75 1250.16 217.13 1228.73 221.52 1220.47 C225.91 1212.21 230.3 1218.62 234.68 1213.23 C239.07 1207.84 243.46 1192.02 247.84 1188.02 C252.23 1184.02 256.62 1193.63 261 1186.77 C265.39 1179.92 269.78 1156.09 274.16 1146.25 C278.55 1136.42 282.94 1136.78 287.32 1135.85 C291.71 1134.92 296.1 1137.43 300.49 1131.61 C304.87 1125.79 309.26 1112.73 313.65 1100.74 C318.03 1088.76 322.42 1074.61 326.81 1063.22 C331.19 1051.83 335.58 1039.65 339.97 1038.09 C344.35 1036.54 348.74 1048.04 353.13 1049.08 C357.52 1050.11 361.9 1041.61 366.29 1043.25 C370.68 1044.89 375.06 1055.76 379.45 1062.22 C383.84 1068.68 388.22 1074.4 392.61 1075.28 C397 1076.17 401.38 1071.71 405.77 1069.21 C410.16 1066.72 414.55 1063.98 418.93 1063.47 C423.32 1062.96 427.71 1064.92 432.09 1065.13 C436.48 1065.34 440.87 1064.28 445.25 1064.3 C449.64 1064.32 454.03 1065.56 458.41 1065.13 C462.8 1064.71 467.19 1062.5 471.58 1061.81 C475.96 1061.11 480.35 1061.54 484.74 1061.47 C489.12 1061.41 493.51 1060.86 497.9 1061.47 C502.28 1062.09 506.67 1064.29 511.06 1064.3 C515.44 1064.32 519.83 1061.66 524.22 1062.39 C528.6 1063.11 532.99 1067.07 537.38 1069.04 C541.77 1071.02 546.15 1071.74 550.54 1072.7" fill="none" stroke="#ee3d3f" stroke-width="1.45" stroke-linejoin="round"/>
<g fill="#ee3d3f"><circle cx="208.36" cy="1268.22" r="3.4"/><circle cx="221.52" cy="1220.47" r="3.4"/><circle cx="234.68" cy="1213.23" r="3.4"/><circle cx="247.84" cy="1188.02" r="3.4"/><circle cx="261" cy="1186.77" r="3.4"/><circle cx="274.16" cy="1146.25" r="3.4"/><circle cx="287.32" cy="1135.85" r="3.4"/><circle cx="300.49" cy="1131.61" r="3.4"/><circle cx="313.65" cy="1100.74" r="3.4"/><circle cx="326.81" cy="1063.22" r="3.4"/><circle cx="339.97" cy="1038.09" r="3.4"/><circle cx="353.13" cy="1049.08" r="3.4"/><circle cx="366.29" cy="1043.25" r="3.4"/><circle cx="379.45" cy="1062.22" r="3.4"/><circle cx="392.61" cy="1075.28" r="3.4"/><circle cx="405.77" cy="1069.21" r="3.4"/><circle cx="418.93" cy="1063.47" r="3.4"/><circle cx="432.09" cy="1065.13" r="3.4"/><circle cx="445.25" cy="1064.3" r="3.4"/><circle cx="458.41" cy="1065.13" r="3.4"/><circle cx="471.58" cy="1061.81" r="3.4"/><circle cx="484.74" cy="1061.47" r="3.4"/><circle cx="497.9" cy="1061.47" r="3.4"/><circle cx="511.06" cy="1064.3" r="3.4"/><circle cx="524.22" cy="1062.39" r="3.4"/><circle cx="537.38" cy="1069.04" r="3.4"/><circle cx="550.54" cy="1072.7" r="3.4"/></g>
<path d="M208.36 1310.49 C212.75 1312.82 217.13 1319.29 221.52 1309.08 C225.91 1298.87 230.3 1268.24 234.68 1257.99 C239.07 1247.74 243.46 1254.54 247.84 1251.75 C252.23 1248.96 256.62 1239.88 261 1235.69 C265.39 1231.51 269.78 1233.86 274.16 1225.04 C278.55 1216.23 282.94 1194.92 287.32 1185.02 C291.71 1175.13 296.1 1176.5 300.49 1166.47 C304.87 1156.45 309.26 1136.09 313.65 1120.63 C318.03 1105.17 322.42 1089.04 326.81 1083.6 C331.19 1078.16 335.58 1083.8 339.97 1085.93 C344.35 1088.06 348.74 1089.86 353.13 1092.34 C357.52 1094.82 361.9 1098.96 366.29 1099.91 C370.68 1100.86 375.06 1097.85 379.45 1099.66 C383.84 1101.47 388.22 1108.3 392.61 1109.81 C397 1111.32 401.38 1107.4 405.77 1109.81 C410.16 1112.22 414.55 1122.61 418.93 1121.63 C423.32 1120.65 427.71 1108.02 432.09 1103.57 C436.48 1099.12 440.87 1100.08 445.25 1100.66 C449.64 1101.24 454.03 1103.62 458.41 1101.08 C462.8 1098.53 467.19 1088.91 471.58 1090.68 C475.96 1092.44 480.35 1106.65 484.74 1109.48 C489.12 1112.31 493.51 1105.67 497.9 1104.82 C502.28 1103.97 506.67 1107.9 511.06 1106.57 C515.44 1105.23 519.83 1097.95 524.22 1096.83 C528.6 1095.71 532.99 1100.11 537.38 1101.49 C541.77 1102.87 546.15 1102.44 550.54 1102.32" fill="none" stroke="#1a6fdf" stroke-width="1.45" stroke-linejoin="round"/>
<g fill="#1a6fdf"><circle cx="208.36" cy="1310.49" r="3.4"/><circle cx="221.52" cy="1309.08" r="3.4"/><circle cx="234.68" cy="1257.99" r="3.4"/><circle cx="247.84" cy="1251.75" r="3.4"/><circle cx="261" cy="1235.69" r="3.4"/><circle cx="274.16" cy="1225.04" r="3.4"/><circle cx="287.32" cy="1185.02" r="3.4"/><circle cx="300.49" cy="1166.47" r="3.4"/><circle cx="313.65" cy="1120.63" r="3.4"/><circle cx="326.81" cy="1083.6" r="3.4"/><circle cx="339.97" cy="1085.93" r="3.4"/><circle cx="353.13" cy="1092.34" r="3.4"/><circle cx="366.29" cy="1099.91" r="3.4"/><circle cx="379.45" cy="1099.66" r="3.4"/><circle cx="392.61" cy="1109.81" r="3.4"/><circle cx="405.77" cy="1109.81" r="3.4"/><circle cx="418.93" cy="1121.63" r="3.4"/><circle cx="432.09" cy="1103.57" r="3.4"/><circle cx="445.25" cy="1100.66" r="3.4"/><circle cx="458.41" cy="1101.08" r="3.4"/><circle cx="471.58" cy="1090.68" r="3.4"/><circle cx="484.74" cy="1109.48" r="3.4"/><circle cx="497.9" cy="1104.82" r="3.4"/><circle cx="511.06" cy="1106.57" r="3.4"/><circle cx="524.22" cy="1096.83" r="3.4"/><circle cx="537.38" cy="1101.49" r="3.4"/><circle cx="550.54" cy="1102.32" r="3.4"/></g>
<path d="M208.36 1286.28 C212.75 1275.81 217.13 1264.79 221.52 1255.58 C225.91 1246.36 230.3 1239.23 234.68 1231.45 C239.07 1223.67 243.46 1216.63 247.84 1203.99 C252.23 1191.36 256.62 1167.62 261 1166.47 C265.39 1165.32 269.78 1189.74 274.16 1191.85 C278.55 1193.95 282.94 1178.66 287.32 1171.38 C291.71 1164.1 296.1 1161.59 300.49 1154.74 C304.87 1147.89 309.26 1134.23 313.65 1131.11 C318.03 1128 322.42 1134.35 326.81 1141.18 C331.19 1148 335.58 1163.17 339.97 1157.24 C344.35 1151.31 348.74 1121.15 353.13 1112.56 C357.52 1103.96 361.9 1112.68 366.29 1111.48 C370.68 1110.27 375.06 1101.34 379.45 1100.66 C383.84 1099.98 388.22 1108.51 392.61 1107.15 C397 1105.79 401.38 1093.97 405.77 1092.34 C410.16 1090.71 414.55 1097.51 418.93 1101.49 C423.32 1105.47 427.71 1109.56 432.09 1110.31 C436.48 1111.06 440.87 1108.1 445.25 1107.82 C449.64 1107.53 454.03 1109.12 458.41 1109.48 C462.8 1109.84 467.19 1109.25 471.58 1109.48 C475.96 1109.71 480.35 1110.8 484.74 1110.31 C489.12 1109.82 493.51 1107.13 497.9 1109.15 C502.28 1111.16 506.67 1120.55 511.06 1116.22 C515.44 1111.89 519.83 1090.42 524.22 1089.26 C528.6 1088.1 532.99 1106.28 537.38 1111.48 C541.77 1116.67 546.15 1112.97 550.54 1111.14" fill="none" stroke="#37ad6b" stroke-width="1.45" stroke-linejoin="round"/>
<g fill="#37ad6b"><circle cx="208.36" cy="1286.28" r="3.4"/><circle cx="221.52" cy="1255.58" r="3.4"/><circle cx="234.68" cy="1231.45" r="3.4"/><circle cx="247.84" cy="1203.99" r="3.4"/><circle cx="261" cy="1166.47" r="3.4"/><circle cx="274.16" cy="1191.85" r="3.4"/><circle cx="287.32" cy="1171.38" r="3.4"/><circle cx="300.49" cy="1154.74" r="3.4"/><circle cx="313.65" cy="1131.11" r="3.4"/><circle cx="326.81" cy="1141.18" r="3.4"/><circle cx="339.97" cy="1157.24" r="3.4"/><circle cx="353.13" cy="1112.56" r="3.4"/><circle cx="366.29" cy="1111.48" r="3.4"/><circle cx="379.45" cy="1100.66" r="3.4"/><circle cx="392.61" cy="1107.15" r="3.4"/><circle cx="405.77" cy="1092.34" r="3.4"/><circle cx="418.93" cy="1101.49" r="3.4"/><circle cx="432.09" cy="1110.31" r="3.4"/><circle cx="445.25" cy="1107.82" r="3.4"/><circle cx="458.41" cy="1109.48" r="3.4"/><circle cx="471.58" cy="1109.48" r="3.4"/><circle cx="484.74" cy="1110.31" r="3.4"/><circle cx="497.9" cy="1109.15" r="3.4"/><circle cx="511.06" cy="1116.22" r="3.4"/><circle cx="524.22" cy="1089.26" r="3.4"/><circle cx="537.38" cy="1111.48" r="3.4"/><circle cx="550.54" cy="1111.14" r="3.4"/></g>
<path d="M208.36 1284.28 C212.75 1273.23 217.13 1260.17 221.52 1254.25 C225.91 1248.33 230.3 1250.04 234.68 1248.34 C239.07 1246.64 243.46 1245.42 247.84 1236.53 C252.23 1227.63 256.62 1208.12 261 1202.25 C265.39 1196.38 269.78 1204.79 274.16 1197.34 C278.55 1189.89 282.94 1164.62 287.32 1162.23 C291.71 1159.84 296.1 1182.2 300.49 1180.12 C304.87 1178.03 309.26 1153.38 313.65 1145.42 C318.03 1137.47 322.42 1142.22 326.81 1141.18 C331.19 1140.14 335.58 1135.94 339.97 1132.28 C344.35 1128.61 348.74 1124.59 353.13 1122.29 C357.52 1119.99 361.9 1119.03 366.29 1118.46 C370.68 1117.9 375.06 1118.22 379.45 1118.13 C383.84 1118.05 388.22 1117.75 392.61 1118.13 C397 1118.51 401.38 1120.52 405.77 1119.38 C410.16 1118.24 414.55 1114.55 418.93 1109.48 C423.32 1104.4 427.71 1094.81 432.09 1093.75 C436.48 1092.69 440.87 1099.2 445.25 1104.4 C449.64 1109.61 454.03 1116.58 458.41 1120.79 C462.8 1125.01 467.19 1128.56 471.58 1126.78 C475.96 1125.01 480.35 1115.35 484.74 1113.31 C489.12 1111.26 493.51 1114.05 497.9 1120.05 C502.28 1126.04 506.67 1139.85 511.06 1140.6 C515.44 1141.34 519.83 1128.83 524.22 1125.95 C528.6 1123.07 532.99 1127.45 537.38 1127.53 C541.77 1127.62 546.15 1124.76 550.54 1122.46" fill="none" stroke="#b177de" stroke-width="1.45" stroke-linejoin="round"/>
<g fill="#b177de"><circle cx="208.36" cy="1284.28" r="3.4"/><circle cx="221.52" cy="1254.25" r="3.4"/><circle cx="234.68" cy="1248.34" r="3.4"/><circle cx="247.84" cy="1236.53" r="3.4"/><circle cx="261" cy="1202.25" r="3.4"/><circle cx="274.16" cy="1197.34" r="3.4"/><circle cx="287.32" cy="1162.23" r="3.4"/><circle cx="300.49" cy="1180.12" r="3.4"/><circle cx="313.65" cy="1145.42" r="3.4"/><circle cx="326.81" cy="1141.18" r="3.4"/><circle cx="339.97" cy="1132.28" r="3.4"/><circle cx="353.13" cy="1122.29" r="3.4"/><circle cx="366.29" cy="1118.46" r="3.4"/><circle cx="379.45" cy="1118.13" r="3.4"/><circle cx="392.61" cy="1118.13" r="3.4"/><circle cx="405.77" cy="1119.38" r="3.4"/><circle cx="418.93" cy="1109.48" r="3.4"/><circle cx="432.09" cy="1093.75" r="3.4"/><circle cx="445.25" cy="1104.4" r="3.4"/><circle cx="458.41" cy="1120.79" r="3.4"/><circle cx="471.58" cy="1126.78" r="3.4"/><circle cx="484.74" cy="1113.31" r="3.4"/><circle cx="497.9" cy="1120.05" r="3.4"/><circle cx="511.06" cy="1140.6" r="3.4"/><circle cx="524.22" cy="1125.95" r="3.4"/><circle cx="537.38" cy="1127.53" r="3.4"/><circle cx="550.54" cy="1122.46" r="3.4"/></g>
<rect x="194.8" y="992.5" width="368.9" height="332.8" fill="none" stroke="#484848" stroke-width="1.3"/>
<path d="M194.8 1242.1 h5.0 M194.8 1158.9 h5.0 M194.8 1075.7 h5.0 M194.8 1283.7 h2.9 M194.8 1200.5 h2.9 M194.8 1117.3 h2.9 M194.8 1034.1 h2.9 M247.84 1325.3 v-5.0 M300.49 1325.3 v-5.0 M353.13 1325.3 v-5.0 M405.77 1325.3 v-5.0 M458.41 1325.3 v-5.0 M511.06 1325.3 v-5.0" stroke="#454545" stroke-width="1.1" fill="none"/>
<g font-family="'Liberation Serif','Noto Serif CJK SC',serif" font-size="13.1" fill="#1e1e1e" stroke="#1e1e1e" stroke-width="0.2">
<text x="187.9" y="1330.1" text-anchor="end">50</text>
<text x="187.9" y="1246.9" text-anchor="end">60</text>
<text x="187.9" y="1163.7" text-anchor="end">70</text>
<text x="187.9" y="1080.5" text-anchor="end">80</text>
<text x="187.9" y="997.3" text-anchor="end">90</text>
<text x="195.2" y="1341.7" text-anchor="middle">0</text>
<text x="247.84" y="1341.7" text-anchor="middle">2</text>
<text x="300.49" y="1341.7" text-anchor="middle">4</text>
<text x="353.13" y="1341.7" text-anchor="middle">6</text>
<text x="405.77" y="1341.7" text-anchor="middle">8</text>
<text x="458.41" y="1341.7" text-anchor="middle">10</text>
<text x="511.06" y="1341.7" text-anchor="middle">12</text>
<text x="563.7" y="1341.7" text-anchor="middle">14</text>
</g>
<text x="370.8" y="1362.3" text-anchor="middle" font-family="'Liberation Serif','Noto Serif CJK SC',serif" font-size="15.6" fill="#1e1e1e" stroke="#1e1e1e" stroke-width="0.2">时间/min</text>
<text transform="translate(165.1 1168.7) rotate(-90)" text-anchor="middle" font-family="'Liberation Serif','Noto Serif CJK SC',serif" font-size="15.5" fill="#1e1e1e" stroke="#1e1e1e" stroke-width="0.2">温度/°C</text>
<g font-family="'Liberation Serif','Noto Serif CJK SC',serif" font-size="16.6" fill="#8c2a22" stroke="#8c2a22" stroke-width="0.15">
<text x="284.7" y="1395.7">（</text>
<text x="303.9" y="1395.7">e</text>
<text x="312.6" y="1395.7">）</text>
<text x="320.1" y="1395.7" textLength="42.9" lengthAdjust="spacingAndGlyphs">3 mm</text>
<text x="361.7" y="1395.7">，</text>
<text x="369.9" y="1395.7" textLength="50.2" lengthAdjust="spacingAndGlyphs">120 °C</text>
</g>
<rect x="453.4" y="1205.6" width="105.2" height="111.5" fill="#fff" stroke="#7d7d7d" stroke-width="0.8"/>
<path d="M455.1 1218 H490.8" stroke="#4a4a4a" stroke-width="2.1"/>
<circle cx="472.95" cy="1218" r="3.4" fill="#4a4a4a"/>
<text x="494.3" y="1218.9" font-family="'Liberation Serif','Noto Serif CJK SC',serif" font-size="13.1" fill="#1e1e1e" stroke="#222" stroke-width="0.18"><tspan font-style="italic">w</tspan><tspan dx="-0.3" dy="2.3">＝</tspan><tspan dx="0.4" dy="-2.3">1%</tspan></text>
<path d="M455.1 1239.4 H490.8" stroke="#ee3d3f" stroke-width="1.65"/>
<circle cx="472.95" cy="1239.4" r="3.4" fill="#ee3d3f"/>
<text x="494.3" y="1242.3" font-family="'Liberation Serif','Noto Serif CJK SC',serif" font-size="13.1" fill="#1e1e1e" stroke="#222" stroke-width="0.18"><tspan font-style="italic">w</tspan><tspan dx="-0.3" dy="2.3">＝</tspan><tspan dx="0.4" dy="-2.3">3%</tspan></text>
<path d="M455.1 1261.3 H490.8" stroke="#1a6fdf" stroke-width="1.65"/>
<circle cx="472.95" cy="1261.3" r="3.4" fill="#1a6fdf"/>
<text x="494.3" y="1265.1" font-family="'Liberation Serif','Noto Serif CJK SC',serif" font-size="13.1" fill="#1e1e1e" stroke="#222" stroke-width="0.18"><tspan font-style="italic">w</tspan><tspan dx="-0.3" dy="2.3">＝</tspan><tspan dx="0.4" dy="-2.3">5%</tspan></text>
<path d="M455.1 1283.2 H490.8" stroke="#37ad6b" stroke-width="1.65"/>
<circle cx="472.95" cy="1283.2" r="3.4" fill="#37ad6b"/>
<text x="494.3" y="1288.6" font-family="'Liberation Serif','Noto Serif CJK SC',serif" font-size="13.1" fill="#1e1e1e" stroke="#222" stroke-width="0.18"><tspan font-style="italic">w</tspan><tspan dx="-0.3" dy="2.3">＝</tspan><tspan dx="0.4" dy="-2.3">7%</tspan></text>
<path d="M455.1 1305.1 H490.8" stroke="#b177de" stroke-width="1.65"/>
<circle cx="472.95" cy="1305.1" r="3.4" fill="#b177de"/>
<text x="494.3" y="1311.6" font-family="'Liberation Serif','Noto Serif CJK SC',serif" font-size="13.1" fill="#1e1e1e" stroke="#222" stroke-width="0.18"><tspan font-style="italic">w</tspan><tspan dx="-0.3" dy="2.3">＝</tspan><tspan dx="0.4" dy="-2.3">10%</tspan></text>
</g>
<g>
<path d="M678.49 1324.71 C682.95 1321.16 687.42 1317.66 691.88 1315.16 C696.34 1312.67 700.8 1313.73 705.27 1305.02 C709.73 1296.31 714.19 1276.43 718.66 1264.28 C723.12 1252.12 727.58 1243.25 732.05 1239.51 C736.51 1235.77 740.97 1239.57 745.44 1237.32 C749.9 1235.06 754.36 1229.68 758.83 1222.19 C763.29 1214.69 767.75 1204.2 772.21 1194.71 C776.68 1185.23 781.14 1176.44 785.6 1165.13 C790.07 1153.82 794.53 1139.24 798.99 1127.09 C803.46 1114.95 807.92 1103.48 812.38 1095.91 C816.85 1088.33 821.31 1086.57 825.77 1077.39 C830.23 1068.21 834.7 1050.43 839.16 1042.57 C843.62 1034.71 848.09 1034.66 852.55 1034.54 C857.01 1034.42 861.48 1037.18 865.94 1035.39 C870.4 1033.59 874.87 1026.35 879.33 1027.61 C883.79 1028.87 888.25 1040.43 892.72 1039.61 C897.18 1038.79 901.64 1025.97 906.11 1021.44 C910.57 1016.9 915.03 1017.89 919.5 1018.4 C923.96 1018.9 928.42 1021.07 932.89 1018.4 C937.35 1015.72 941.81 1005.93 946.28 1007.91 C950.74 1009.9 955.2 1024.88 959.66 1027.78 C964.13 1030.68 968.59 1023.41 973.05 1022.54 C977.52 1021.67 981.98 1026.18 986.44 1024.82 C990.91 1023.46 995.37 1015.58 999.83 1014.34 C1004.3 1013.1 1008.76 1017.75 1013.22 1019.24 C1017.68 1020.73 1022.15 1020.33 1026.61 1020.26" fill="none" stroke="#4a4a4a" stroke-width="1.5" stroke-linejoin="round"/>
<g fill="#4a4a4a"><circle cx="678.49" cy="1324.71" r="3.4"/><circle cx="691.88" cy="1315.16" r="3.4"/><circle cx="705.27" cy="1305.02" r="3.4"/><circle cx="718.66" cy="1264.28" r="3.4"/><circle cx="732.05" cy="1239.51" r="3.4"/><circle cx="745.44" cy="1237.32" r="3.4"/><circle cx="758.83" cy="1222.19" r="3.4"/><circle cx="772.21" cy="1194.71" r="3.4"/><circle cx="785.6" cy="1165.13" r="3.4"/><circle cx="798.99" cy="1127.09" r="3.4"/><circle cx="812.38" cy="1095.91" r="3.4"/><circle cx="825.77" cy="1077.39" r="3.4"/><circle cx="839.16" cy="1042.57" r="3.4"/><circle cx="852.55" cy="1034.54" r="3.4"/><circle cx="865.94" cy="1035.39" r="3.4"/><circle cx="879.33" cy="1027.61" r="3.4"/><circle cx="892.72" cy="1039.61" r="3.4"/><circle cx="906.11" cy="1021.44" r="3.4"/><circle cx="919.5" cy="1018.4" r="3.4"/><circle cx="932.89" cy="1018.4" r="3.4"/><circle cx="946.28" cy="1007.91" r="3.4"/><circle cx="959.66" cy="1027.78" r="3.4"/><circle cx="973.05" cy="1022.54" r="3.4"/><circle cx="986.44" cy="1024.82" r="3.4"/><circle cx="999.83" cy="1014.34" r="3.4"/><circle cx="1013.22" cy="1019.24" r="3.4"/><circle cx="1026.61" cy="1020.26" r="3.4"/></g>
<path d="M678.49 1316.01 C682.95 1314.97 687.42 1317.49 691.88 1306.71 C696.34 1295.93 700.8 1270.61 705.27 1254.73 C709.73 1238.85 714.19 1228.17 718.66 1217.79 C723.12 1207.41 727.58 1198.2 732.05 1189.22 C736.51 1180.24 740.97 1171.47 745.44 1165.38 C749.9 1159.3 754.36 1156.76 758.83 1150.25 C763.29 1143.75 767.75 1131.31 772.21 1129.55 C776.68 1127.78 781.14 1136.27 785.6 1141.04 C790.07 1145.81 794.53 1150.52 798.99 1151.95 C803.46 1153.37 807.92 1151.39 812.38 1151.1 C816.85 1150.81 821.31 1151.46 825.77 1151.1 C830.23 1150.74 834.7 1149.53 839.16 1148.23 C843.62 1146.92 848.09 1145.26 852.55 1144 C857.01 1142.74 861.48 1142.19 865.94 1139.86 C870.4 1137.52 874.87 1133.1 879.33 1130.48 C883.79 1127.85 888.25 1126.75 892.72 1124.73 C897.18 1122.71 901.64 1120.71 906.11 1117.12 C910.57 1113.53 915.03 1108.5 919.5 1101.99 C923.96 1095.48 928.42 1084.62 932.89 1083.14 C937.35 1081.66 941.81 1090.25 946.28 1091 C950.74 1091.75 955.2 1085.48 959.66 1086.78 C964.13 1088.08 968.59 1096.86 973.05 1099.46 C977.52 1102.05 981.98 1099.44 986.44 1101.15 C990.91 1102.85 995.37 1109.96 999.83 1107.82 C1004.3 1105.68 1008.76 1092.55 1013.22 1090.16 C1017.68 1087.77 1022.15 1094.09 1026.61 1098.27" fill="none" stroke="#ee3d3f" stroke-width="1.5" stroke-linejoin="round"/>
<g fill="#ee3d3f"><circle cx="678.49" cy="1316.01" r="3.4"/><circle cx="691.88" cy="1306.71" r="3.4"/><circle cx="705.27" cy="1254.73" r="3.4"/><circle cx="718.66" cy="1217.79" r="3.4"/><circle cx="732.05" cy="1189.22" r="3.4"/><circle cx="745.44" cy="1165.38" r="3.4"/><circle cx="758.83" cy="1150.25" r="3.4"/><circle cx="772.21" cy="1129.55" r="3.4"/><circle cx="785.6" cy="1141.04" r="3.4"/><circle cx="798.99" cy="1151.95" r="3.4"/><circle cx="812.38" cy="1151.1" r="3.4"/><circle cx="825.77" cy="1151.1" r="3.4"/><circle cx="839.16" cy="1148.23" r="3.4"/><circle cx="852.55" cy="1144" r="3.4"/><circle cx="865.94" cy="1139.86" r="3.4"/><circle cx="879.33" cy="1130.48" r="3.4"/><circle cx="892.72" cy="1124.73" r="3.4"/><circle cx="906.11" cy="1117.12" r="3.4"/><circle cx="919.5" cy="1101.99" r="3.4"/><circle cx="932.89" cy="1083.14" r="3.4"/><circle cx="946.28" cy="1091" r="3.4"/><circle cx="959.66" cy="1086.78" r="3.4"/><circle cx="973.05" cy="1099.46" r="3.4"/><circle cx="986.44" cy="1101.15" r="3.4"/><circle cx="999.83" cy="1107.82" r="3.4"/><circle cx="1013.22" cy="1090.16" r="3.4"/><circle cx="1026.61" cy="1098.27" r="3.4"/></g>
<path d="M678.49 1297.5 C682.95 1284.66 687.42 1269.56 691.88 1262.59 C696.34 1255.62 700.8 1256.91 705.27 1254.73 C709.73 1252.55 714.19 1249.48 718.66 1245.26 C723.12 1241.04 727.58 1234.83 732.05 1231.91 C736.51 1228.98 740.97 1229.5 745.44 1226.83 C749.9 1224.16 754.36 1218.53 758.83 1215.85 C763.29 1213.17 767.75 1213.6 772.21 1210.44 C776.68 1207.27 781.14 1200.3 785.6 1197.25 C790.07 1194.2 794.53 1194.99 798.99 1192.18 C803.46 1189.37 807.92 1183.09 812.38 1180.26 C816.85 1177.43 821.31 1178.16 825.77 1174.68 C830.23 1171.2 834.7 1162.42 839.16 1160.74 C843.62 1159.05 848.09 1163.78 852.55 1166.15 C857.01 1168.51 861.48 1170.79 865.94 1171.22 C870.4 1171.65 874.87 1170.7 879.33 1168.26 C883.79 1165.81 888.25 1160.17 892.72 1159.21 C897.18 1158.26 901.64 1161.64 906.11 1162.6 C910.57 1163.55 915.03 1162.61 919.5 1164.29 C923.96 1165.96 928.42 1171.15 932.89 1171.89 C937.35 1172.63 941.81 1169.83 946.28 1166.82 C950.74 1163.81 955.2 1158.93 959.66 1156.68 C964.13 1154.43 968.59 1154.27 973.05 1153.8 C977.52 1153.34 981.98 1153.12 986.44 1152.45 C990.91 1151.78 995.37 1149.87 999.83 1151.61 C1004.3 1153.34 1008.76 1159.47 1013.22 1161.75 C1017.68 1164.03 1022.15 1163.38 1026.61 1163.44" fill="none" stroke="#1a6fdf" stroke-width="1.5" stroke-linejoin="round"/>
<g fill="#1a6fdf"><circle cx="678.49" cy="1297.5" r="3.4"/><circle cx="691.88" cy="1262.59" r="3.4"/><circle cx="705.27" cy="1254.73" r="3.4"/><circle cx="718.66" cy="1245.26" r="3.4"/><circle cx="732.05" cy="1231.91" r="3.4"/><circle cx="745.44" cy="1226.83" r="3.4"/><circle cx="758.83" cy="1215.85" r="3.4"/><circle cx="772.21" cy="1210.44" r="3.4"/><circle cx="785.6" cy="1197.25" r="3.4"/><circle cx="798.99" cy="1192.18" r="3.4"/><circle cx="812.38" cy="1180.26" r="3.4"/><circle cx="825.77" cy="1174.68" r="3.4"/><circle cx="839.16" cy="1160.74" r="3.4"/><circle cx="852.55" cy="1166.15" r="3.4"/><circle cx="865.94" cy="1171.22" r="3.4"/><circle cx="879.33" cy="1168.26" r="3.4"/><circle cx="892.72" cy="1159.21" r="3.4"/><circle cx="906.11" cy="1162.6" r="3.4"/><circle cx="919.5" cy="1164.29" r="3.4"/><circle cx="932.89" cy="1171.89" r="3.4"/><circle cx="946.28" cy="1166.82" r="3.4"/><circle cx="959.66" cy="1156.68" r="3.4"/><circle cx="973.05" cy="1153.8" r="3.4"/><circle cx="986.44" cy="1152.45" r="3.4"/><circle cx="999.83" cy="1151.61" r="3.4"/><circle cx="1013.22" cy="1161.75" r="3.4"/><circle cx="1026.61" cy="1163.44" r="3.4"/></g>
<path d="M678.49 1311.44 C682.95 1293.38 687.42 1271.97 691.88 1262.93 C696.34 1253.88 700.8 1257.77 705.27 1254.56 C709.73 1251.35 714.19 1243.83 718.66 1239.34 C723.12 1234.86 727.58 1232.43 732.05 1230.98 C736.51 1229.52 740.97 1230.39 745.44 1227.68 C749.9 1224.97 754.36 1218.77 758.83 1215 C763.29 1211.23 767.75 1209.26 772.21 1206.21 C776.68 1203.16 781.14 1199.85 785.6 1195.56 C790.07 1191.27 794.53 1186.49 798.99 1178.91 C803.46 1171.32 807.92 1158.32 812.38 1154.48 C816.85 1150.64 821.31 1155.81 825.77 1155.33 C830.23 1154.85 834.7 1149.33 839.16 1150.25 C843.62 1151.18 848.09 1158.08 852.55 1163.19 C857.01 1168.29 861.48 1174.33 865.94 1175.87 C870.4 1177.4 874.87 1174 879.33 1173.75 C883.79 1173.51 888.25 1175.11 892.72 1176.54 C897.18 1177.98 901.64 1180.26 906.11 1180.35 C910.57 1180.43 915.03 1178.49 919.5 1176.96 C923.96 1175.44 928.42 1173.68 932.89 1172.74 C937.35 1171.8 941.81 1172.31 946.28 1169.36 C950.74 1166.4 955.2 1158.64 959.66 1157.52 C964.13 1156.41 968.59 1161.9 973.05 1162.6 C977.52 1163.29 981.98 1160.26 986.44 1159.72 C990.91 1159.18 995.37 1160.47 999.83 1160.9 C1004.3 1161.34 1008.76 1160.76 1013.22 1162.09 C1017.68 1163.41 1022.15 1166.64 1026.61 1169.36" fill="none" stroke="#37ad6b" stroke-width="1.5" stroke-linejoin="round"/>
<g fill="#37ad6b"><circle cx="678.49" cy="1311.44" r="3.4"/><circle cx="691.88" cy="1262.93" r="3.4"/><circle cx="705.27" cy="1254.56" r="3.4"/><circle cx="718.66" cy="1239.34" r="3.4"/><circle cx="732.05" cy="1230.98" r="3.4"/><circle cx="745.44" cy="1227.68" r="3.4"/><circle cx="758.83" cy="1215" r="3.4"/><circle cx="772.21" cy="1206.21" r="3.4"/><circle cx="785.6" cy="1195.56" r="3.4"/><circle cx="798.99" cy="1178.91" r="3.4"/><circle cx="812.38" cy="1154.48" r="3.4"/><circle cx="825.77" cy="1155.33" r="3.4"/><circle cx="839.16" cy="1150.25" r="3.4"/><circle cx="852.55" cy="1163.19" r="3.4"/><circle cx="865.94" cy="1175.87" r="3.4"/><circle cx="879.33" cy="1173.75" r="3.4"/><circle cx="892.72" cy="1176.54" r="3.4"/><circle cx="906.11" cy="1180.35" r="3.4"/><circle cx="919.5" cy="1176.96" r="3.4"/><circle cx="932.89" cy="1172.74" r="3.4"/><circle cx="946.28" cy="1169.36" r="3.4"/><circle cx="959.66" cy="1157.52" r="3.4"/><circle cx="973.05" cy="1162.6" r="3.4"/><circle cx="986.44" cy="1159.72" r="3.4"/><circle cx="999.83" cy="1160.9" r="3.4"/><circle cx="1013.22" cy="1162.09" r="3.4"/><circle cx="1026.61" cy="1169.36" r="3.4"/></g>
<path d="M678.49 1289.38 C682.95 1283.42 687.42 1276.84 691.88 1272.22 C696.34 1267.61 700.8 1264.61 705.27 1262.59 C709.73 1260.57 714.19 1261.29 718.66 1257.35 C723.12 1253.41 727.58 1244.97 732.05 1238.5 C736.51 1232.03 740.97 1225.79 745.44 1222.19 C749.9 1218.58 754.36 1219.34 758.83 1213.31 C763.29 1207.28 767.75 1194.19 772.21 1186.43 C776.68 1178.67 781.14 1173.83 785.6 1170.46 C790.07 1167.08 794.53 1165.15 798.99 1165.38 C803.46 1165.62 807.92 1168.78 812.38 1171.3 C816.85 1173.82 821.31 1176.82 825.77 1178.91 C830.23 1180.99 834.7 1182.45 839.16 1183.98 C843.62 1185.51 848.09 1187.6 852.55 1187.28 C857.01 1186.95 861.48 1184 865.94 1182.21 C870.4 1180.41 874.87 1178.85 879.33 1177.98 C883.79 1177.11 888.25 1177.19 892.72 1176.54 C897.18 1175.9 901.64 1175.29 906.11 1172.74 C910.57 1170.19 915.03 1164.8 919.5 1162.6 C923.96 1160.39 928.42 1160.91 932.89 1160.9 C937.35 1160.9 941.81 1161.95 946.28 1158.37 C950.74 1154.79 955.2 1143.56 959.66 1145.35 C964.13 1147.15 968.59 1162.81 973.05 1167.67 C977.52 1172.52 981.98 1169.42 986.44 1169.36 C990.91 1169.29 995.37 1170.19 999.83 1172.15 C1004.3 1174.1 1008.76 1177.73 1013.22 1179.08 C1017.68 1180.42 1022.15 1179.83 1026.61 1179.75" fill="none" stroke="#b177de" stroke-width="1.5" stroke-linejoin="round"/>
<g fill="#b177de"><circle cx="678.49" cy="1289.38" r="3.4"/><circle cx="691.88" cy="1272.22" r="3.4"/><circle cx="705.27" cy="1262.59" r="3.4"/><circle cx="718.66" cy="1257.35" r="3.4"/><circle cx="732.05" cy="1238.5" r="3.4"/><circle cx="745.44" cy="1222.19" r="3.4"/><circle cx="758.83" cy="1213.31" r="3.4"/><circle cx="772.21" cy="1186.43" r="3.4"/><circle cx="785.6" cy="1170.46" r="3.4"/><circle cx="798.99" cy="1165.38" r="3.4"/><circle cx="812.38" cy="1171.3" r="3.4"/><circle cx="825.77" cy="1178.91" r="3.4"/><circle cx="839.16" cy="1183.98" r="3.4"/><circle cx="852.55" cy="1187.28" r="3.4"/><circle cx="865.94" cy="1182.21" r="3.4"/><circle cx="879.33" cy="1177.98" r="3.4"/><circle cx="892.72" cy="1176.54" r="3.4"/><circle cx="906.11" cy="1172.74" r="3.4"/><circle cx="919.5" cy="1162.6" r="3.4"/><circle cx="932.89" cy="1160.9" r="3.4"/><circle cx="946.28" cy="1158.37" r="3.4"/><circle cx="959.66" cy="1145.35" r="3.4"/><circle cx="973.05" cy="1167.67" r="3.4"/><circle cx="986.44" cy="1169.36" r="3.4"/><circle cx="999.83" cy="1172.15" r="3.4"/><circle cx="1013.22" cy="1179.08" r="3.4"/><circle cx="1026.61" cy="1179.75" r="3.4"/></g>
<rect x="665" y="992.7" width="375" height="338.1" fill="none" stroke="#555555" stroke-width="1.5"/>
<path d="M665 1246.28 h5.7 M665 1161.75 h5.7 M665 1077.23 h5.7 M665 1288.54 h2.7 M665 1204.01 h2.7 M665 1119.49 h2.7 M665 1034.96 h2.7 M718.66 1330.8 v-5.7 M772.21 1330.8 v-5.7 M825.77 1330.8 v-5.7 M879.33 1330.8 v-5.7 M932.89 1330.8 v-5.7 M986.44 1330.8 v-5.7 M691.88 1330.8 v-2.7 M745.44 1330.8 v-2.7 M798.99 1330.8 v-2.7 M852.55 1330.8 v-2.7 M906.11 1330.8 v-2.7 M959.66 1330.8 v-2.7 M1013.22 1330.8 v-2.7" stroke="#454545" stroke-width="1.1" fill="none"/>
<g font-family="'Liberation Serif','Noto Serif CJK SC',serif" font-size="13.1" fill="#1e1e1e" stroke="#1e1e1e" stroke-width="0.2">
<text x="657.5" y="1335" text-anchor="end">40</text>
<text x="657.5" y="1250.48" text-anchor="end">50</text>
<text x="657.5" y="1165.95" text-anchor="end">60</text>
<text x="657.5" y="1081.43" text-anchor="end">70</text>
<text x="657.5" y="996.9" text-anchor="end">80</text>
<text x="665.1" y="1348.6" text-anchor="middle">0</text>
<text x="718.66" y="1348.6" text-anchor="middle">2</text>
<text x="772.21" y="1348.6" text-anchor="middle">4</text>
<text x="825.77" y="1348.6" text-anchor="middle">6</text>
<text x="879.33" y="1348.6" text-anchor="middle">8</text>
<text x="932.89" y="1348.6" text-anchor="middle">10</text>
<text x="986.44" y="1348.6" text-anchor="middle">12</text>
<text x="1040" y="1348.6" text-anchor="middle">14</text>
</g>
<text x="843.8" y="1370.4" text-anchor="middle" font-family="'Liberation Serif','Noto Serif CJK SC',serif" font-size="15.6" fill="#1e1e1e" stroke="#1e1e1e" stroke-width="0.2">时间/min</text>
<text transform="translate(636.9 1160.9) rotate(-90)" text-anchor="middle" font-family="'Liberation Serif','Noto Serif CJK SC',serif" font-size="15.5" fill="#1e1e1e" stroke="#1e1e1e" stroke-width="0.2">温度/°C</text>
<g font-family="'Liberation Serif','Noto Serif CJK SC',serif" font-size="16.6" fill="#8c2a22" stroke="#8c2a22" stroke-width="0.15">
<text x="758.4" y="1395.7">（</text>
<text x="777.6" y="1395.7">f</text>
<text x="785.18" y="1395.7">）</text>
<text x="792.4" y="1395.7" textLength="42.9" lengthAdjust="spacingAndGlyphs">5 mm</text>
<text x="833.58" y="1395.7">，</text>
<text x="842.2" y="1395.7" textLength="48.75" lengthAdjust="spacingAndGlyphs">120 °C</text>
</g>
<rect x="929.2" y="1206.5" width="106.8" height="112.6" fill="#fff" stroke="#7d7d7d" stroke-width="0.8"/>
<path d="M931.4 1218.4 H966.8" stroke="#4a4a4a" stroke-width="2.1"/>
<circle cx="949.1" cy="1218.4" r="3.4" fill="#4a4a4a"/>
<text x="969.8" y="1223.6" font-family="'Liberation Serif','Noto Serif CJK SC',serif" font-size="13.1" fill="#1e1e1e" stroke="#222" stroke-width="0.18"><tspan font-style="italic">w</tspan><tspan dx="-0.3" dy="2.3">＝</tspan><tspan dx="0.4" dy="-2.3">1%</tspan></text>
<path d="M931.4 1240.8 H966.8" stroke="#ee3d3f" stroke-width="1.65"/>
<circle cx="949.1" cy="1240.8" r="3.4" fill="#ee3d3f"/>
<text x="969.8" y="1244.9" font-family="'Liberation Serif','Noto Serif CJK SC',serif" font-size="13.1" fill="#1e1e1e" stroke="#222" stroke-width="0.18"><tspan font-style="italic">w</tspan><tspan dx="-0.3" dy="2.3">＝</tspan><tspan dx="0.4" dy="-2.3">3%</tspan></text>
<path d="M931.4 1263 H966.8" stroke="#1a6fdf" stroke-width="1.65"/>
<circle cx="949.1" cy="1263" r="3.4" fill="#1a6fdf"/>
<text x="969.8" y="1266.5" font-family="'Liberation Serif','Noto Serif CJK SC',serif" font-size="13.1" fill="#1e1e1e" stroke="#222" stroke-width="0.18"><tspan font-style="italic">w</tspan><tspan dx="-0.3" dy="2.3">＝</tspan><tspan dx="0.4" dy="-2.3">5%</tspan></text>
<path d="M931.4 1284.9 H966.8" stroke="#37ad6b" stroke-width="1.65"/>
<circle cx="949.1" cy="1284.9" r="3.4" fill="#37ad6b"/>
<text x="969.8" y="1287.9" font-family="'Liberation Serif','Noto Serif CJK SC',serif" font-size="13.1" fill="#1e1e1e" stroke="#222" stroke-width="0.18"><tspan font-style="italic">w</tspan><tspan dx="-0.3" dy="2.3">＝</tspan><tspan dx="0.4" dy="-2.3">7%</tspan></text>
<path d="M931.4 1307.1 H966.8" stroke="#b177de" stroke-width="1.65"/>
<circle cx="949.1" cy="1307.1" r="3.4" fill="#b177de"/>
<text x="969.8" y="1309.3" font-family="'Liberation Serif','Noto Serif CJK SC',serif" font-size="13.1" fill="#1e1e1e" stroke="#222" stroke-width="0.18"><tspan font-style="italic">w</tspan><tspan dx="-0.3" dy="2.3">＝</tspan><tspan dx="0.4" dy="-2.3">10%</tspan></text>
</g>
<text x="391.6" y="1426" textLength="403.2" lengthAdjust="spacing" font-family="'Liberation Serif','Noto Sans CJK SC',sans-serif" font-size="16.4" font-weight="500" fill="#1c1c1c">图<tspan font-weight="bold">2</tspan>　气凝胶水性隔热保温涂料样片隔热试验测试结果</text>
<text x="214.3" y="1448" textLength="758" lengthAdjust="spacing" font-family="'Liberation Serif','Noto Serif CJK SC',serif" font-size="16.6" font-weight="bold" fill="#222" xml:space="preserve">Fig. 2    Results of Thermal Insulation Test of Aerogel Waterborne Thermal Insulation Coatings Samples</text>
<text x="138.5" y="1531" font-family="'Liberation Serif','Noto Serif CJK SC',serif" font-size="18.4" fill="#2b4c7e">32</text>
<path d="M167.4 1508 V1538.5" stroke="#3f73ad" stroke-width="2"/>
<text x="172.6" y="1523.2" font-family="'Liberation Sans','Noto Sans CJK SC',sans-serif" font-size="16.3" font-weight="bold" fill="#585858">技术研发</text>
<text x="173" y="1537.5" font-family="'Liberation Serif','Noto Serif CJK SC',serif" font-size="9.3" textLength="153.6" lengthAdjust="spacingAndGlyphs" font-weight="bold" fill="#878787">Technical Research and Development</text>
</svg></body></html>
